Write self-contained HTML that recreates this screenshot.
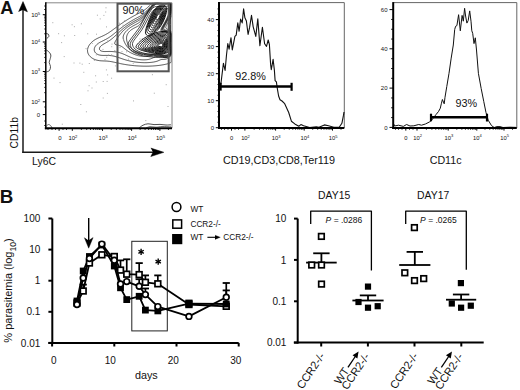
<!DOCTYPE html>
<html><head><meta charset="utf-8"><style>
html,body{margin:0;padding:0;background:#fff;}
svg{display:block;}
text{font-family:"Liberation Sans", sans-serif;fill:#111;}
</style></head><body>
<svg width="520" height="390" viewBox="0 0 520 390">
<rect width="520" height="390" fill="#fff"/>
<text x="0.20" y="13.80" font-size="18.2" text-anchor="start" font-weight="bold" font-style="normal" >A</text>
<line x1="23.00" y1="153.00" x2="23.00" y2="9.00" stroke="#1a1a1a" stroke-width="1.5" />
<path d="M18.60,11.80 L23.00,1.60 L27.40,11.80 L23.00,9.80" stroke="#000" stroke-width="0.5" fill="#000" stroke-linejoin="round" />
<line x1="22.30" y1="152.30" x2="155.00" y2="152.30" stroke="#1a1a1a" stroke-width="1.5" />
<path d="M150.80,148.10 L163.80,152.30 L150.80,156.50 L153.00,152.30" stroke="#000" stroke-width="0.5" fill="#000" stroke-linejoin="round" />
<text transform="translate(18.2,132.7) rotate(-90)" font-size="10.4" text-anchor="middle">CD11b</text>
<text x="32.10" y="164.60" font-size="10.4" text-anchor="start" font-weight="normal" font-style="normal" >Ly6C</text>
<path d="M171.20,49.36 L171.20,49.68 L171.20,50.00 L171.20,50.33 L171.20,50.67 L171.20,51.00 L171.20,51.33 L171.20,51.64 L171.20,51.92 L171.20,52.20 L171.20,52.49 L171.20,52.80 L171.20,53.12 L171.20,53.48 L171.20,53.89 L171.20,54.33 L171.20,54.67 L171.20,55.00 L171.20,55.67 L171.20,56.00 L171.20,56.67 L171.20,57.33 L171.20,58.00 L171.20,58.67 L171.20,59.33 L171.20,60.00 L171.20,60.33 L171.20,60.78 L171.20,61.16 L171.20,61.48 L171.20,61.74 L171.20,62.00 L171.10,62.33 L170.67,62.56 L170.33,62.73 L169.74,63.00 L169.33,63.16 L168.89,63.33 L168.33,63.53 L167.91,63.67 L167.33,63.84 L166.76,64.00 L166.33,64.11 L165.67,64.27 L165.33,64.35 L164.67,64.49 L164.00,64.62 L163.67,64.69 L163.00,64.81 L162.33,64.92 L161.88,65.00 L161.33,65.09 L160.67,65.19 L160.00,65.28 L159.62,65.33 L159.00,65.41 L158.33,65.50 L157.67,65.57 L157.00,65.64 L156.67,65.68 L156.00,65.74 L155.33,65.80 L154.67,65.85 L154.00,65.90 L153.33,65.95 L152.67,65.99 L152.33,66.01 L151.67,66.04 L151.00,66.07 L150.33,66.10 L149.67,66.12 L149.00,66.14 L148.33,66.16 L147.67,66.17 L147.00,66.18 L146.33,66.18 L145.67,66.18 L145.00,66.18 L144.33,66.17 L143.67,66.16 L143.00,66.15 L142.33,66.13 L141.67,66.11 L141.00,66.09 L140.33,66.06 L139.67,66.03 L139.03,66.00 L138.67,65.98 L138.00,65.94 L137.33,65.90 L136.67,65.86 L136.00,65.81 L135.33,65.75 L134.67,65.70 L134.33,65.67 L133.67,65.61 L133.00,65.54 L132.33,65.47 L131.67,65.40 L131.07,65.33 L130.67,65.29 L130.00,65.21 L129.33,65.12 L128.67,65.03 L128.33,64.99 L127.67,64.89 L127.00,64.79 L126.33,64.69 L126.00,64.64 L125.33,64.53 L124.67,64.42 L124.18,64.33 L123.67,64.24 L123.00,64.12 L122.37,64.00 L122.00,63.93 L121.33,63.80 L120.70,63.67 L120.33,63.59 L119.67,63.45 L119.13,63.33 L118.67,63.23 L118.00,63.08 L117.63,63.00 L117.00,62.86 L116.33,62.70 L116.00,62.63 L115.33,62.48 L114.70,62.33 L114.33,62.25 L113.67,62.10 L113.18,62.00 L112.67,61.89 L112.00,61.76 L111.49,61.67 L111.00,61.58 L110.33,61.47 L109.67,61.37 L109.33,61.33 L108.67,61.25 L108.00,61.18 L107.33,61.12 L106.67,61.07 L106.00,61.03 L105.33,61.00 L105.00,60.99 L104.33,60.96 L103.67,60.94 L103.00,60.92 L102.33,60.89 L101.67,60.85 L101.00,60.81 L100.33,60.75 L99.67,60.68 L99.33,60.64 L98.67,60.54 L98.00,60.42 L97.57,60.33 L97.00,60.20 L96.33,60.02 L96.00,59.92 L95.33,59.70 L95.00,59.57 L94.41,59.33 L94.00,59.15 L93.67,58.99 L93.05,58.67 L92.67,58.45 L92.33,58.24 L91.97,58.00 L91.50,57.67 L91.07,57.33 L90.68,57.00 L90.33,56.68 L90.00,56.35 L89.68,56.00 L89.40,55.67 L89.14,55.33 L88.91,55.00 L88.67,54.62 L88.33,54.01 L88.17,53.67 L88.00,53.23 L87.81,52.67 L87.67,52.06 L87.60,51.67 L87.53,51.00 L87.52,50.33 L87.56,49.67 L87.66,49.00 L87.73,48.67 L87.90,48.00 L88.01,47.67 L88.27,47.00 L88.41,46.67 L88.67,46.15 L88.93,45.67 L89.13,45.33 L89.34,45.00 L89.67,44.53 L90.00,44.08 L90.33,43.67 L90.62,43.33 L90.92,43.00 L91.24,42.67 L91.58,42.33 L91.93,42.00 L92.31,41.67 L92.67,41.36 L93.00,41.09 L93.33,40.84 L93.67,40.59 L94.03,40.33 L94.53,40.00 L95.00,39.70 L95.33,39.50 L95.67,39.30 L96.21,39.00 L96.67,38.76 L97.00,38.58 L97.50,38.33 L98.00,38.09 L98.33,37.94 L98.92,37.67 L99.33,37.48 L99.67,37.33 L100.33,37.04 L100.67,36.90 L101.19,36.67 L101.67,36.46 L102.00,36.31 L102.67,36.01 L103.00,35.85 L103.40,35.67 L104.00,35.38 L104.33,35.21 L104.75,35.00 L105.33,34.70 L105.67,34.52 L106.01,34.33 L106.60,34.00 L107.00,33.76 L107.33,33.57 L107.72,33.33 L108.25,33.00 L108.67,32.74 L109.00,32.52 L109.33,32.30 L109.78,32.00 L110.27,31.67 L110.67,31.39 L111.00,31.16 L111.33,30.92 L111.69,30.67 L112.15,30.33 L112.61,30.00 L113.00,29.72 L113.33,29.47 L113.67,29.23 L114.00,28.98 L114.42,28.67 L114.87,28.33 L115.33,28.00 L115.67,27.75 L116.00,27.50 L116.33,27.25 L116.68,27.00 L117.13,26.67 L117.59,26.33 L118.00,26.04 L118.33,25.79 L118.67,25.55 L119.00,25.31 L119.44,25.00 L119.91,24.67 L120.33,24.37 L120.67,24.13 L121.00,23.90 L121.34,23.67 L121.82,23.33 L122.31,23.00 L122.67,22.76 L123.00,22.53 L123.33,22.31 L123.80,22.00 L124.31,21.67 L124.67,21.43 L125.00,21.21 L125.33,21.00 L125.85,20.67 L126.33,20.36 L126.67,20.15 L127.00,19.94 L127.44,19.67 L127.98,19.33 L128.33,19.11 L128.67,18.91 L129.07,18.67 L129.63,18.33 L130.00,18.11 L130.33,17.92 L130.76,17.67 L131.33,17.33 L131.67,17.14 L132.00,16.95 L132.50,16.67 L133.00,16.38 L133.33,16.19 L133.68,16.00 L134.29,15.67 L134.67,15.46 L135.00,15.28 L135.51,15.00 L136.00,14.74 L136.33,14.56 L136.76,14.33 L137.33,14.03 L137.67,13.86 L138.04,13.67 L138.67,13.34 L139.00,13.16 L139.33,12.99 L139.96,12.67 L140.33,12.47 L140.67,12.29 L141.21,12.00 L141.67,11.75 L142.00,11.56 L142.39,11.33 L142.96,11.00 L143.33,10.77 L143.67,10.55 L144.01,10.33 L144.49,10.00 L144.96,9.67 L145.33,9.39 L145.67,9.13 L146.00,8.86 L146.33,8.59 L146.67,8.32 L147.03,8.00 L147.41,7.67 L147.78,7.33 L148.14,7.00 L148.50,6.67 L148.86,6.33 L149.20,6.00 L149.55,5.67 L149.90,5.33 L150.24,5.00 L150.58,4.67 L150.92,4.33 L151.26,4.00 L151.61,3.67 L151.95,3.33 L152.29,3.20 L152.64,3.20 L152.99,3.20 L153.33,3.20 L153.67,3.20 L154.00,3.20 L154.33,3.20 L154.67,3.20 L155.00,3.20 L155.33,3.20" stroke="#111" stroke-width="0.75" fill="none" stroke-linejoin="round" />
<path d="M171.20,3.20 L171.20,3.20 L171.20,3.20 L171.20,3.20 L171.20,3.20 L171.20,3.20 L171.20,3.33 L171.20,4.00 L171.20,4.67 L171.20,5.33 L171.20,6.00 L171.20,6.53 L171.20,7.00 L171.20,7.67 L171.20,8.13 L171.20,8.67 L171.20,9.31 L171.20,9.67 L171.20,10.31 L171.20,10.67 L171.20,11.21 L171.20,11.67 L171.20,12.05 L171.20,12.67 L171.20,13.00 L171.20,13.58 L171.20,14.00 L171.20,14.33 L171.20,15.00 L171.20,15.33 L171.20,15.68 L171.20,16.33 L171.18,16.67 L171.00,17.00 L170.67,17.63 L170.48,18.00 L170.30,18.33 L170.00,18.88 L169.75,19.33 L169.57,19.67 L169.33,20.09 L169.01,20.67 L168.83,21.00 L168.63,21.33 L168.33,21.86 L168.06,22.33 L167.87,22.67 L167.67,23.02 L167.33,23.61 L167.12,24.00 L166.94,24.33 L166.67,24.84 L166.42,25.33 L166.27,25.67 L166.00,26.33 L165.90,26.67 L165.79,27.33 L165.89,28.00 L166.09,28.33 L166.43,28.67 L166.94,29.00 L167.33,29.21 L167.67,29.38 L168.24,29.67 L168.67,29.88 L169.00,30.06 L169.47,30.33 L170.00,30.65 L170.33,30.86 L170.67,31.08 L171.04,31.33 L171.20,31.67 L171.20,31.99 L171.20,32.21 L171.20,32.44 L171.20,32.67 L171.20,33.00 L171.20,33.31 L171.20,33.51 L171.20,33.72 L171.20,34.00 L171.20,34.32 L171.20,34.51 L171.20,34.71 L171.20,35.00 L171.20,35.33 L171.20,35.55 L171.20,35.78 L171.20,36.02 L171.20,36.33 L171.20,36.67 L171.20,37.00" stroke="#111" stroke-width="0.75" fill="none" stroke-linejoin="round" />
<path d="M171.20,46.35 L171.20,46.86 L171.20,47.31 L171.20,47.67 L171.20,48.00 L171.20,48.33 L171.20,48.67 L171.20,49.00 L171.20,49.33 L171.20,49.62 L171.20,49.90 L171.20,50.17 L171.20,50.44 L171.20,50.71 L171.20,51.00 L171.20,51.33 L171.20,51.67 L171.20,52.00 L171.20,52.33 L171.20,52.67 L171.20,53.00 L171.20,53.33 L171.20,53.73 L171.20,54.14 L171.20,54.55 L171.20,54.96 L171.03,55.33 L170.76,55.67 L170.47,56.00 L170.18,56.33 L169.87,56.67 L169.54,57.00 L169.19,57.33 L168.80,57.67 L168.37,58.00 L168.00,58.25 L167.67,58.45 L167.25,58.67 L166.67,58.92 L166.33,59.04 L165.67,59.22 L165.01,59.33 L164.67,59.38 L164.00,59.43 L163.33,59.45 L162.67,59.46 L162.00,59.48 L161.33,59.56 L160.83,59.67 L160.33,59.82 L159.91,60.00 L159.33,60.26 L159.00,60.42 L158.46,60.67 L158.00,60.85 L157.63,61.00 L157.00,61.22 L156.65,61.33 L156.00,61.52 L155.42,61.67 L155.00,61.76 L154.33,61.90 L153.82,62.00 L153.33,62.08 L152.67,62.18 L152.00,62.27 L151.52,62.33 L151.00,62.39 L150.33,62.45 L149.67,62.51 L149.00,62.55 L148.33,62.59 L147.67,62.62 L147.00,62.65 L146.33,62.66 L146.00,62.67 L145.33,62.67 L144.67,62.67 L144.20,62.67 L143.67,62.66 L143.00,62.64 L142.33,62.62 L141.67,62.59 L141.00,62.55 L140.33,62.51 L139.67,62.46 L139.00,62.41 L138.33,62.35 L138.00,62.31 L137.33,62.24 L136.67,62.17 L136.00,62.08 L135.36,62.00 L135.00,61.95 L134.33,61.85 L133.67,61.74 L133.20,61.67 L132.67,61.57 L132.00,61.45 L131.40,61.33 L131.00,61.25 L130.33,61.11 L129.83,61.00 L129.33,60.88 L128.67,60.73 L128.33,60.64 L127.67,60.47 L127.14,60.33 L126.67,60.20 L126.00,60.01 L125.67,59.91 L125.00,59.71 L124.67,59.61 L124.00,59.40 L123.67,59.29 L123.00,59.07 L122.67,58.96 L122.00,58.73 L121.67,58.62 L121.00,58.38 L120.67,58.27 L120.00,58.03 L119.67,57.91 L119.00,57.68 L118.67,57.57 L118.00,57.34 L117.67,57.23 L117.00,57.01 L116.67,56.91 L116.00,56.70 L115.67,56.61 L115.00,56.42 L114.66,56.33 L114.00,56.17 L113.33,56.02 L113.00,55.95 L112.33,55.83 L111.67,55.72 L111.25,55.67 L110.67,55.60 L110.00,55.53 L109.33,55.48 L108.67,55.45 L108.00,55.42 L107.33,55.41 L106.67,55.41 L106.00,55.42 L105.33,55.42 L104.67,55.43 L104.00,55.43 L103.33,55.43 L102.67,55.41 L102.00,55.38 L101.42,55.33 L101.00,55.29 L100.33,55.19 L99.67,55.07 L99.33,54.99 L98.67,54.80 L98.30,54.67 L97.67,54.40 L97.33,54.24 L96.91,54.00 L96.42,53.67 L96.01,53.33 L95.67,53.01 L95.36,52.67 L95.11,52.33 L94.90,52.00 L94.67,51.54 L94.46,51.00 L94.33,50.47 L94.27,50.00 L94.26,49.33 L94.33,48.70 L94.41,48.33 L94.62,47.67 L94.76,47.33 L95.00,46.84 L95.30,46.33 L95.53,46.00 L95.78,45.67 L96.06,45.33 L96.36,45.00 L96.70,44.67 L97.06,44.33 L97.46,44.00 L97.89,43.67 L98.33,43.35 L98.67,43.12 L99.00,42.91 L99.40,42.67 L99.97,42.33 L100.33,42.13 L100.67,41.95 L101.22,41.67 L101.67,41.44 L102.00,41.27 L102.56,41.00 L103.00,40.78 L103.33,40.62 L103.91,40.33 L104.33,40.13 L104.67,39.96 L105.23,39.67 L105.67,39.44 L106.00,39.26 L106.47,39.00 L107.00,38.70 L107.33,38.51 L107.67,38.31 L108.17,38.00 L108.67,37.69 L109.00,37.47 L109.33,37.25 L109.71,37.00 L110.19,36.67 L110.66,36.33 L111.00,36.09 L111.33,35.84 L111.67,35.59 L112.01,35.33 L112.44,35.00 L112.87,34.67 L113.29,34.33 L113.67,34.03 L114.00,33.76 L114.33,33.49 L114.67,33.22 L115.00,32.94 L115.33,32.67 L115.74,32.33 L116.14,32.00 L116.54,31.67 L116.94,31.33 L117.33,31.00 L117.67,30.73 L118.00,30.45 L118.33,30.17 L118.67,29.90 L119.00,29.63 L119.36,29.33 L119.78,29.00 L120.19,28.67 L120.61,28.33 L121.00,28.03 L121.33,27.77 L121.67,27.51 L122.00,27.26 L122.34,27.00 L122.78,26.67 L123.23,26.33 L123.67,26.01 L124.00,25.77 L124.33,25.53 L124.67,25.30 L125.09,25.00 L125.57,24.67 L126.00,24.37 L126.33,24.14 L126.67,23.92 L127.04,23.67 L127.55,23.33 L128.00,23.04 L128.33,22.83 L128.67,22.61 L129.11,22.33 L129.65,22.00 L130.00,21.78 L130.33,21.58 L130.74,21.33 L131.30,21.00 L131.67,20.78 L132.00,20.59 L132.44,20.33 L133.00,20.01 L133.33,19.82 L133.67,19.63 L134.20,19.33 L134.67,19.08 L135.00,18.89 L135.42,18.67 L136.00,18.35 L136.33,18.17 L136.67,18.00 L137.28,17.67 L137.67,17.46 L138.00,17.28 L138.53,17.00 L139.00,16.74 L139.33,16.56 L139.73,16.33 L140.31,16.00 L140.67,15.79 L141.00,15.58 L141.39,15.33 L141.88,15.00 L142.33,14.69 L142.67,14.44 L143.00,14.19 L143.33,13.93 L143.67,13.66 L144.04,13.33 L144.42,13.00 L144.79,12.67 L145.15,12.33 L145.50,12.00 L145.84,11.67 L146.17,11.33 L146.50,11.00 L146.82,10.67 L147.14,10.33 L147.46,10.00 L147.78,9.67 L148.09,9.33 L148.40,9.00 L148.71,8.67 L149.02,8.33 L149.33,8.00 L149.67,7.64 L150.00,7.28 L150.33,6.92 L150.67,6.57 L151.00,6.21 L151.33,5.86 L151.67,5.51 L152.00,5.17 L152.33,4.83 L152.67,4.49 L153.00,4.15 L153.33,3.82 L153.67,3.50 L154.00,3.20 L154.33,3.20 L154.67,3.20 L155.00,3.20 L155.33,3.20 L155.67,3.20 L156.03,3.20 L156.42,3.20 L156.82,3.20 L157.23,3.20 L157.66,3.20" stroke="#111" stroke-width="0.75" fill="none" stroke-linejoin="round" />
<path d="M171.20,3.20 L171.20,3.20 L171.20,3.20 L171.20,3.20 L171.20,3.20 L171.20,3.20 L171.20,3.20 L171.20,3.67 L171.20,4.33 L171.20,5.00 L171.20,5.67 L171.20,6.33 L171.20,6.75 L171.20,7.33 L171.20,8.00 L171.20,8.67 L171.20,9.00 L171.20,9.67 L171.20,10.18 L171.20,10.67 L171.20,11.33 L171.20,11.67 L171.20,12.33 L171.20,12.67 L171.00,13.28 L170.86,13.67 L170.67,14.15 L170.46,14.67 L170.32,15.00 L170.04,15.67 L169.89,16.00 L169.67,16.50 L169.44,17.00 L169.28,17.33 L169.00,17.92 L168.80,18.33 L168.63,18.67 L168.33,19.26 L168.13,19.67 L167.95,20.00 L167.67,20.54 L167.42,21.00 L167.24,21.33 L167.00,21.77 L166.69,22.33 L166.50,22.67 L166.31,23.00 L166.00,23.55 L165.75,24.00 L165.56,24.33 L165.33,24.74 L165.01,25.33 L164.84,25.67 L164.66,26.00 L164.34,26.67 L164.20,27.00 L164.00,27.54 L163.88,28.00 L163.84,28.67 L164.00,29.15 L164.33,29.53 L164.67,29.74 L165.30,30.00 L165.67,30.11 L166.33,30.31 L166.67,30.41 L167.33,30.64 L167.67,30.76 L168.23,31.00 L168.67,31.20 L169.00,31.38 L169.52,31.67 L170.00,31.96 L170.33,32.17 L170.67,32.40 L171.05,32.67 L171.20,33.00 L171.20,33.33 L171.20,33.60 L171.20,33.84 L171.20,34.08 L171.20,34.33 L171.20,34.67 L171.20,35.00 L171.20,35.25 L171.20,35.48 L171.20,35.71 L171.20,36.00 L171.20,36.33 L171.20,36.67 L171.20,36.94 L171.20,37.21 L171.20,37.50 L171.20,37.81 L171.20,38.13 L171.20,38.49 L171.20,38.88 L171.20,39.32 L171.20,39.67" stroke="#111" stroke-width="0.75" fill="none" stroke-linejoin="round" />
<path d="M171.20,43.71 L171.20,44.33 L171.20,45.00 L171.20,45.33 L171.20,45.79 L171.20,46.33 L171.20,46.67 L171.20,47.00 L171.20,47.33 L171.20,47.67 L171.20,48.03 L171.20,48.36 L171.20,48.68 L171.20,49.00 L171.20,49.33 L171.20,49.67 L171.20,50.00 L171.20,50.33 L171.20,50.67 L171.20,51.00 L171.20,51.33 L171.20,51.67 L171.20,52.00 L171.20,52.33 L171.20,52.67 L171.20,53.00 L171.20,53.33 L171.20,53.67 L171.20,54.00 L171.00,54.35 L170.67,54.72 L170.33,55.08 L170.00,55.41 L169.67,55.72 L169.33,56.02 L168.94,56.33 L168.46,56.67 L168.00,56.95 L167.67,57.13 L167.18,57.33 L166.67,57.51 L166.00,57.65 L165.67,57.69 L165.00,57.71 L164.47,57.67 L164.00,57.60 L163.33,57.44 L163.00,57.33 L162.33,57.10 L162.00,56.97 L161.33,56.71 L161.00,56.60 L160.33,56.40 L160.00,56.32 L159.33,56.25 L158.67,56.24 L158.00,56.30 L157.67,56.34 L157.00,56.49 L156.33,56.65 L156.00,56.75 L155.33,56.96 L155.00,57.08 L154.33,57.32 L154.00,57.45 L153.46,57.67 L153.00,57.87 L152.67,58.01 L152.00,58.30 L151.67,58.44 L151.09,58.67 L150.67,58.82 L150.13,59.00 L149.67,59.14 L149.00,59.31 L148.67,59.38 L148.00,59.51 L147.33,59.61 L146.90,59.67 L146.33,59.73 L145.67,59.78 L145.00,59.81 L144.33,59.83 L143.67,59.84 L143.00,59.83 L142.33,59.81 L141.67,59.78 L141.00,59.73 L140.33,59.67 L140.00,59.64 L139.33,59.56 L138.67,59.47 L138.00,59.36 L137.67,59.31 L137.00,59.18 L136.33,59.05 L136.00,58.97 L135.33,58.81 L134.75,58.67 L134.33,58.55 L133.67,58.36 L133.33,58.25 L132.67,58.04 L132.33,57.92 L131.67,57.68 L131.33,57.55 L130.77,57.33 L130.33,57.16 L129.96,57.00 L129.33,56.73 L129.00,56.58 L128.45,56.33 L128.00,56.13 L127.67,55.97 L127.01,55.67 L126.67,55.51 L126.30,55.33 L125.67,55.04 L125.33,54.89 L124.85,54.67 L124.33,54.43 L124.00,54.29 L123.33,54.01 L123.00,53.87 L122.49,53.67 L122.00,53.48 L121.60,53.33 L121.00,53.13 L120.61,53.00 L120.00,52.81 L119.47,52.67 L119.00,52.54 L118.33,52.38 L118.00,52.31 L117.33,52.17 L116.67,52.05 L116.33,51.99 L115.67,51.89 L115.00,51.79 L114.33,51.72 L113.86,51.67 L113.33,51.62 L112.67,51.57 L112.00,51.52 L111.33,51.49 L110.67,51.47 L110.00,51.46 L109.33,51.46 L108.67,51.47 L108.00,51.48 L107.33,51.50 L106.67,51.51 L106.00,51.53 L105.33,51.54 L104.67,51.54 L104.00,51.52 L103.33,51.47 L102.67,51.39 L102.33,51.33 L101.67,51.15 L101.24,51.00 L100.67,50.71 L100.33,50.47 L100.00,50.16 L99.67,49.68 L99.53,49.33 L99.44,48.67 L99.55,48.00 L99.67,47.67 L100.00,47.06 L100.29,46.67 L100.58,46.33 L100.92,46.00 L101.30,45.67 L101.67,45.37 L102.00,45.13 L102.33,44.90 L102.69,44.67 L103.22,44.33 L103.67,44.07 L104.00,43.88 L104.37,43.67 L104.96,43.33 L105.33,43.13 L105.67,42.94 L106.14,42.67 L106.67,42.36 L107.00,42.17 L107.33,41.97 L107.83,41.67 L108.33,41.35 L108.67,41.14 L109.00,40.92 L109.37,40.67 L109.85,40.33 L110.32,40.00 L110.67,39.75 L111.00,39.50 L111.33,39.25 L111.67,38.99 L112.07,38.67 L112.48,38.33 L112.88,38.00 L113.27,37.67 L113.66,37.33 L114.00,37.03 L114.33,36.73 L114.67,36.43 L115.00,36.13 L115.33,35.82 L115.67,35.50 L116.00,35.19 L116.33,34.87 L116.67,34.55 L117.00,34.23 L117.33,33.91 L117.67,33.59 L118.00,33.27 L118.33,32.95 L118.67,32.63 L119.00,32.32 L119.34,32.00 L119.69,31.67 L120.05,31.33 L120.42,31.00 L120.79,30.67 L121.16,30.33 L121.54,30.00 L121.93,29.67 L122.32,29.33 L122.67,29.04 L123.00,28.76 L123.33,28.49 L123.67,28.22 L124.00,27.96 L124.37,27.67 L124.80,27.33 L125.24,27.00 L125.67,26.68 L126.00,26.44 L126.33,26.19 L126.67,25.96 L127.08,25.67 L127.56,25.33 L128.00,25.03 L128.33,24.81 L128.67,24.59 L129.06,24.33 L129.57,24.00 L130.00,23.73 L130.33,23.52 L130.67,23.32 L131.19,23.00 L131.67,22.71 L132.00,22.52 L132.33,22.32 L132.89,22.00 L133.33,21.75 L133.67,21.56 L134.07,21.33 L134.67,21.01 L135.00,20.82 L135.33,20.64 L135.91,20.33 L136.33,20.10 L136.67,19.93 L137.15,19.67 L137.67,19.39 L138.00,19.20 L138.36,19.00 L138.95,18.67 L139.33,18.44 L139.67,18.23 L140.04,18.00 L140.54,17.67 L141.00,17.35 L141.33,17.10 L141.67,16.84 L142.00,16.58 L142.33,16.30 L142.69,16.00 L143.06,15.67 L143.42,15.33 L143.76,15.00 L144.10,14.67 L144.43,14.33 L144.76,14.00 L145.07,13.67 L145.39,13.33 L145.70,13.00 L146.00,12.67 L146.33,12.30 L146.67,11.93 L147.00,11.55 L147.33,11.17 L147.67,10.80 L148.00,10.42 L148.33,10.04 L148.66,9.67 L148.95,9.33 L149.24,9.00 L149.54,8.67 L149.84,8.33 L150.13,8.00 L150.43,7.67 L150.74,7.33 L151.04,7.00 L151.35,6.67 L151.67,6.33 L152.00,5.97 L152.33,5.62 L152.67,5.28 L153.00,4.93 L153.33,4.60 L153.67,4.27 L154.00,3.94 L154.33,3.62 L154.67,3.30 L155.00,3.20 L155.36,3.20 L155.73,3.20 L156.12,3.20 L156.51,3.20 L156.91,3.20 L157.33,3.20 L157.67,3.20 L158.00,3.20 L158.33,3.20 L158.67,3.20" stroke="#111" stroke-width="0.75" fill="none" stroke-linejoin="round" />
<path d="M170.78,3.20 L171.00,3.20 L171.20,3.20 L171.20,3.20 L171.20,3.20 L171.20,3.20 L171.20,3.20 L171.20,3.67 L171.20,4.33 L171.20,5.00 L171.20,5.67 L171.20,6.33 L171.20,7.00 L171.20,7.67 L171.20,8.19 L171.20,8.67 L171.20,9.33 L171.20,9.88 L171.20,10.33 L171.05,11.00 L170.95,11.33 L170.76,12.00 L170.65,12.33 L170.43,13.00 L170.31,13.33 L170.07,14.00 L169.94,14.33 L169.68,15.00 L169.55,15.33 L169.33,15.84 L169.13,16.33 L168.98,16.67 L168.68,17.33 L168.53,17.67 L168.33,18.07 L168.05,18.67 L167.89,19.00 L167.67,19.43 L167.38,20.00 L167.21,20.33 L167.00,20.72 L166.67,21.33 L166.49,21.67 L166.31,22.00 L166.00,22.55 L165.75,23.00 L165.56,23.33 L165.33,23.73 L165.00,24.32 L164.81,24.67 L164.62,25.00 L164.33,25.50 L164.06,26.00 L163.89,26.33 L163.67,26.77 L163.40,27.33 L163.27,27.67 L163.05,28.33 L162.98,28.67 L163.00,29.33 L163.14,29.67 L163.43,30.00 L164.00,30.31 L164.33,30.42 L165.00,30.58 L165.36,30.67 L166.00,30.80 L166.67,30.97 L167.00,31.07 L167.67,31.30 L168.00,31.43 L168.51,31.67 L169.00,31.91 L169.33,32.10 L169.72,32.33 L170.24,32.67 L170.67,32.96 L171.00,33.19 L171.20,33.44 L171.20,33.69 L171.20,34.00 L171.20,34.33 L171.20,34.67 L171.20,34.95 L171.20,35.20 L171.20,35.45 L171.20,35.69 L171.20,36.00 L171.20,36.33 L171.20,36.67 L171.20,36.97 L171.20,37.24 L171.20,37.53 L171.20,37.83 L171.20,38.15 L171.20,38.50 L171.20,38.88 L171.20,39.30 L171.20,39.67 L171.20,40.00 L171.20,40.34 L171.20,41.00 L171.20,41.33 L171.20,42.00 L171.20,42.42" stroke="#111" stroke-width="0.75" fill="none" stroke-linejoin="round" />
<path d="M169.88,3.20 L170.09,3.20 L170.33,3.20 L170.59,3.20 L170.71,3.20 L170.92,3.20 L171.00,3.20 L171.14,3.33 L171.20,4.00 L171.20,4.67 L171.20,5.33 L171.20,6.00 L171.20,6.67 L171.20,7.33 L171.14,8.00 L171.04,8.67 L170.98,9.00 L170.86,9.67 L170.70,10.33 L170.62,10.67 L170.45,11.33 L170.33,11.73 L170.16,12.33 L170.00,12.82 L169.83,13.33 L169.67,13.80 L169.48,14.33 L169.33,14.70 L169.09,15.33 L168.96,15.67 L168.68,16.33 L168.54,16.67 L168.33,17.12 L168.09,17.67 L167.94,18.00 L167.67,18.56 L167.46,19.00 L167.29,19.33 L167.00,19.91 L166.79,20.33 L166.61,20.67 L166.33,21.19 L166.08,21.67 L165.90,22.00 L165.67,22.41 L165.33,23.00 L165.15,23.33 L164.96,23.67 L164.67,24.17 L164.38,24.67 L164.19,25.00 L164.00,25.33 L163.67,25.92 L163.44,26.33 L163.26,26.67 L163.00,27.18 L162.77,27.67 L162.63,28.00 L162.41,28.67 L162.33,29.07 L162.33,29.60 L162.46,30.00 L162.72,30.33 L163.28,30.67 L163.67,30.79 L164.33,30.93 L164.71,31.00 L165.33,31.09 L166.00,31.21 L166.50,31.33 L167.00,31.46 L167.60,31.67 L168.00,31.82 L168.39,32.00 L169.00,32.31 L169.33,32.49 L169.67,32.70 L170.13,33.00 L170.61,33.33 L171.00,33.61 L171.20,33.86 L171.20,34.12 L171.20,34.38 L171.20,34.67 L171.20,35.00 L171.20,35.33 L171.20,35.67 L171.20,35.95 L171.20,36.22 L171.20,36.48 L171.20,36.75 L171.20,37.02 L171.20,37.33 L171.20,37.67 L171.20,38.00 L171.20,38.33 L171.20,38.67 L171.20,39.00 L171.20,39.38 L171.20,39.86 L171.20,40.33 L171.20,40.67 L171.20,41.18 L171.20,41.67 L171.20,42.33 L171.20,42.74 L171.20,43.33 L171.20,43.67 L171.20,44.33 L171.20,44.93 L171.20,45.33 L171.20,45.69 L171.20,46.27 L171.20,46.67 L171.20,47.00 L171.20,47.33 L171.20,47.67 L171.20,48.00 L171.20,48.33 L171.20,48.67 L171.20,49.00 L171.20,49.33 L171.20,49.67 L171.20,50.00 L171.20,50.33 L171.20,50.67 L171.20,51.00 L171.20,51.33 L171.20,51.67 L171.20,52.00 L171.20,52.33 L171.20,52.67 L171.20,53.00 L171.20,53.36 L171.00,53.73 L170.67,54.09 L170.33,54.43 L170.00,54.75 L169.67,55.06 L169.33,55.34 L168.91,55.67 L168.41,56.00 L168.00,56.24 L167.67,56.41 L167.00,56.66 L166.67,56.76 L166.00,56.88 L165.33,56.92 L164.67,56.87 L164.00,56.74 L163.67,56.65 L163.00,56.43 L162.67,56.30 L162.00,56.03 L161.67,55.90 L161.08,55.67 L160.67,55.54 L160.00,55.36 L159.67,55.30 L159.00,55.24 L158.33,55.23 L157.67,55.26 L157.00,55.31 L156.67,55.35 L156.00,55.44 L155.33,55.53 L154.67,55.62 L154.26,55.67 L153.67,55.75 L153.00,55.84 L152.33,55.92 L151.67,55.99 L151.33,56.03 L150.67,56.10 L150.00,56.17 L149.33,56.23 L148.67,56.28 L148.00,56.32 L147.67,56.34 L147.00,56.37 L146.33,56.40 L145.67,56.41 L145.00,56.41 L144.33,56.40 L143.67,56.37 L143.02,56.33 L142.67,56.31 L142.00,56.25 L141.33,56.18 L140.67,56.09 L140.15,56.00 L139.67,55.92 L139.00,55.79 L138.48,55.67 L138.00,55.56 L137.33,55.38 L137.00,55.29 L136.33,55.09 L136.00,54.98 L135.33,54.76 L135.00,54.64 L134.33,54.39 L134.00,54.26 L133.38,54.00 L133.00,53.84 L132.61,53.67 L132.00,53.38 L131.67,53.23 L131.21,53.00 L130.67,52.72 L130.33,52.54 L129.95,52.33 L129.37,52.00 L129.00,51.79 L128.67,51.58 L128.27,51.33 L127.75,51.00 L127.33,50.72 L127.00,50.49 L126.67,50.26 L126.31,50.00 L125.86,49.67 L125.43,49.33 L125.00,49.00 L124.67,48.74 L124.33,48.47 L124.00,48.21 L123.67,47.94 L123.31,47.67 L122.86,47.33 L122.40,47.00 L122.00,46.73 L121.67,46.52 L121.33,46.33 L120.68,46.00 L120.33,45.85 L119.85,45.67 L119.33,45.50 L118.68,45.33 L118.33,45.25 L117.67,45.12 L117.04,45.00 L116.67,44.92 L116.00,44.74 L115.67,44.61 L115.18,44.33 L114.87,44.00 L114.70,43.33 L114.81,42.67 L115.00,42.17 L115.23,41.67 L115.40,41.33 L115.67,40.85 L115.96,40.33 L116.16,40.00 L116.36,39.67 L116.67,39.17 L116.98,38.67 L117.19,38.33 L117.41,38.00 L117.67,37.61 L118.00,37.12 L118.30,36.67 L118.54,36.33 L118.77,36.00 L119.02,35.67 L119.33,35.24 L119.67,34.80 L120.00,34.38 L120.30,34.00 L120.58,33.67 L120.86,33.33 L121.14,33.00 L121.44,32.67 L121.74,32.33 L122.05,32.00 L122.37,31.67 L122.69,31.33 L123.02,31.00 L123.37,30.67 L123.72,30.33 L124.08,30.00 L124.44,29.67 L124.82,29.33 L125.21,29.00 L125.61,28.67 L126.00,28.35 L126.33,28.08 L126.67,27.82 L127.00,27.56 L127.33,27.31 L127.76,27.00 L128.22,26.67 L128.67,26.35 L129.00,26.12 L129.33,25.90 L129.68,25.67 L130.19,25.33 L130.67,25.03 L131.00,24.83 L131.33,24.62 L131.81,24.33 L132.33,24.03 L132.67,23.83 L133.00,23.64 L133.55,23.33 L134.00,23.08 L134.33,22.90 L134.77,22.67 L135.33,22.37 L135.67,22.19 L136.02,22.00 L136.65,21.67 L137.00,21.48 L137.33,21.30 L137.86,21.00 L138.33,20.72 L138.67,20.52 L139.00,20.31 L139.47,20.00 L139.95,19.67 L140.33,19.38 L140.67,19.12 L141.00,18.84 L141.33,18.56 L141.67,18.26 L142.00,17.95 L142.33,17.62 L142.67,17.29 L143.00,16.95 L143.33,16.59 L143.67,16.23 L144.00,15.86 L144.33,15.49 L144.67,15.11 L145.00,14.72 L145.33,14.34 L145.62,14.00 L145.90,13.67 L146.17,13.33 L146.45,13.00 L146.73,12.67 L147.02,12.33 L147.33,11.95 L147.67,11.55 L148.00,11.15 L148.33,10.76 L148.67,10.36 L148.97,10.00 L149.25,9.67 L149.54,9.33 L149.83,9.00 L150.12,8.67 L150.41,8.33 L150.70,8.00 L151.00,7.67 L151.33,7.30 L151.67,6.93 L152.00,6.57 L152.33,6.21 L152.67,5.86 L153.00,5.51 L153.33,5.17 L153.67,4.84 L154.00,4.51 L154.33,4.18 L154.67,3.86 L155.00,3.55 L155.33,3.25 L155.67,3.20 L156.00,3.20 L156.37,3.20 L156.77,3.20 L157.18,3.20 L157.61,3.20 L158.00,3.20 L158.33,3.20 L158.67,3.20 L159.00,3.20 L159.51,3.20" stroke="#111" stroke-width="0.75" fill="none" stroke-linejoin="round" />
<path d="M168.73,3.20 L169.03,3.20 L169.33,3.20 L169.67,3.20 L169.84,3.20 L170.00,3.20 L170.21,3.20 L170.33,3.20 L170.45,3.67 L170.55,4.33 L170.61,5.00 L170.64,5.67 L170.64,6.33 L170.62,7.00 L170.57,7.67 L170.49,8.33 L170.39,9.00 L170.33,9.33 L170.21,10.00 L170.06,10.67 L169.98,11.00 L169.81,11.67 L169.67,12.16 L169.52,12.67 L169.33,13.24 L169.20,13.67 L169.00,14.22 L168.84,14.67 L168.67,15.12 L168.46,15.67 L168.32,16.00 L168.05,16.67 L167.90,17.00 L167.67,17.53 L167.46,18.00 L167.30,18.33 L167.00,18.97 L166.83,19.33 L166.66,19.67 L166.33,20.30 L166.15,20.67 L165.97,21.00 L165.67,21.57 L165.43,22.00 L165.25,22.33 L165.00,22.77 L164.68,23.33 L164.49,23.67 L164.30,24.00 L164.00,24.51 L163.72,25.00 L163.52,25.33 L163.32,25.67 L163.00,26.23 L162.76,26.67 L162.58,27.00 L162.33,27.46 L162.07,28.00 L161.93,28.33 L161.69,29.00 L161.62,29.33 L161.59,30.00 L161.68,30.33 L162.00,30.77 L162.33,31.01 L163.00,31.25 L163.39,31.33 L164.00,31.41 L164.67,31.48 L165.33,31.56 L166.00,31.67 L166.33,31.73 L167.00,31.90 L167.33,32.01 L168.00,32.26 L168.33,32.40 L168.85,32.67 L169.33,32.94 L169.67,33.14 L170.00,33.37 L170.43,33.67 L170.88,34.00 L171.20,34.33 L171.20,34.62 L171.20,34.88 L171.20,35.16 L171.20,35.43 L171.20,35.71 L171.20,36.00 L171.20,36.33 L171.20,36.67 L171.20,37.00 L171.20,37.33 L171.20,37.67 L171.20,38.00 L171.20,38.33 L171.20,38.67 L171.20,39.00 L171.20,39.33 L171.20,39.67 L171.20,40.07 L171.20,40.67 L171.20,41.00 L171.20,41.54 L171.20,42.00 L171.20,42.67 L171.20,43.33 L171.20,44.00 L171.20,44.56 L171.20,45.00 L171.20,45.41 L171.20,46.00 L171.20,46.33 L171.20,46.67 L171.20,47.00 L171.20,47.40 L171.20,47.77 L171.20,48.13 L171.20,48.47 L171.20,48.81 L171.20,49.14 L171.20,49.47 L171.20,49.81 L171.20,50.15 L171.20,50.50 L171.20,50.86 L171.20,51.23 L171.20,51.60 L171.20,51.97 L171.20,52.33 L171.20,52.67 L171.08,53.00 L170.77,53.33 L170.45,53.67 L170.11,54.00 L169.74,54.33 L169.35,54.67 L169.00,54.94 L168.67,55.17 L168.33,55.38 L167.78,55.67 L167.33,55.86 L166.89,56.00 L166.33,56.13 L165.67,56.19 L165.00,56.17 L164.33,56.06 L164.00,55.98 L163.33,55.78 L163.00,55.65 L162.33,55.39 L162.00,55.25 L161.37,55.00 L161.00,54.87 L160.33,54.67 L160.00,54.60 L159.33,54.50 L158.67,54.45 L158.00,54.45 L157.33,54.47 L156.67,54.52 L156.00,54.57 L155.33,54.62 L154.72,54.67 L154.33,54.70 L153.67,54.75 L153.00,54.79 L152.33,54.82 L151.67,54.85 L151.00,54.87 L150.33,54.88 L149.67,54.89 L149.00,54.89 L148.33,54.88 L147.67,54.86 L147.00,54.84 L146.33,54.80 L145.67,54.76 L145.00,54.70 L144.67,54.67 L144.00,54.60 L143.33,54.52 L142.67,54.43 L142.07,54.33 L141.67,54.27 L141.00,54.15 L140.33,54.01 L140.00,53.94 L139.33,53.78 L138.91,53.67 L138.33,53.51 L137.74,53.33 L137.33,53.21 L136.72,53.00 L136.33,52.87 L135.81,52.67 L135.33,52.48 L134.99,52.33 L134.33,52.05 L134.00,51.89 L133.54,51.67 L133.00,51.39 L132.67,51.21 L132.31,51.00 L131.75,50.67 L131.33,50.40 L131.00,50.18 L130.67,49.95 L130.28,49.67 L129.85,49.33 L129.44,49.00 L129.06,48.67 L128.70,48.33 L128.36,48.00 L128.04,47.67 L127.74,47.33 L127.45,47.00 L127.18,46.67 L126.92,46.33 L126.67,45.98 L126.33,45.50 L126.01,45.00 L125.80,44.67 L125.61,44.33 L125.33,43.84 L125.06,43.33 L124.89,43.00 L124.67,42.54 L124.41,42.00 L124.26,41.67 L124.00,41.06 L123.84,40.67 L123.67,40.20 L123.49,39.67 L123.33,39.08 L123.24,38.67 L123.16,38.00 L123.14,37.33 L123.19,36.67 L123.32,36.00 L123.41,35.67 L123.64,35.00 L123.78,34.67 L124.00,34.21 L124.29,33.67 L124.50,33.33 L124.72,33.00 L125.00,32.60 L125.33,32.16 L125.67,31.75 L126.00,31.37 L126.33,31.00 L126.66,30.67 L126.99,30.33 L127.33,30.01 L127.67,29.71 L128.00,29.42 L128.33,29.14 L128.67,28.87 L129.00,28.60 L129.35,28.33 L129.81,28.00 L130.28,27.67 L130.67,27.41 L131.00,27.19 L131.33,26.97 L131.83,26.67 L132.33,26.36 L132.67,26.17 L133.00,25.98 L133.58,25.67 L134.00,25.44 L134.33,25.27 L134.85,25.00 L135.33,24.76 L135.67,24.59 L136.18,24.33 L136.67,24.08 L137.00,23.90 L137.43,23.67 L137.99,23.33 L138.33,23.11 L138.67,22.89 L139.00,22.64 L139.39,22.33 L139.78,22.00 L140.15,21.67 L140.49,21.33 L140.81,21.00 L141.12,20.67 L141.42,20.33 L141.72,20.00 L142.00,19.67 L142.33,19.27 L142.67,18.86 L143.00,18.44 L143.33,18.02 L143.60,17.67 L143.86,17.33 L144.12,17.00 L144.38,16.67 L144.67,16.30 L145.00,15.86 L145.33,15.43 L145.66,15.00 L145.91,14.67 L146.17,14.33 L146.43,14.00 L146.69,13.67 L147.00,13.27 L147.33,12.84 L147.67,12.41 L148.00,12.00 L148.26,11.67 L148.52,11.33 L148.79,11.00 L149.06,10.67 L149.34,10.33 L149.67,9.94 L150.00,9.54 L150.33,9.14 L150.67,8.75 L151.00,8.37 L151.32,8.00 L151.62,7.67 L151.92,7.33 L152.22,7.00 L152.53,6.67 L152.84,6.33 L153.16,6.00 L153.48,5.67 L153.81,5.33 L154.15,5.00 L154.49,4.67 L154.84,4.33 L155.20,4.00 L155.56,3.67 L155.94,3.33 L156.33,3.20 L156.67,3.20 L157.00,3.20 L157.33,3.20 L157.67,3.20 L158.00,3.20 L158.46,3.20 L158.95,3.20 L159.33,3.20 L159.67,3.20 L160.01,3.20 L160.60,3.20" stroke="#111" stroke-width="0.75" fill="none" stroke-linejoin="round" />
<path d="M167.26,3.20 L167.67,3.20 L168.00,3.20 L168.33,3.20 L168.67,3.20 L168.90,3.20 L169.09,3.20 L169.33,3.20 L169.51,3.20 L169.67,3.54 L169.78,4.00 L169.89,4.67 L169.96,5.33 L170.00,6.00 L170.01,6.33 L170.00,6.88 L169.98,7.33 L169.94,8.00 L169.86,8.67 L169.77,9.33 L169.67,9.90 L169.59,10.33 L169.44,11.00 L169.33,11.43 L169.19,12.00 L169.00,12.67 L168.90,13.00 L168.69,13.67 L168.58,14.00 L168.35,14.67 L168.23,15.00 L168.00,15.59 L167.85,16.00 L167.67,16.43 L167.43,17.00 L167.29,17.33 L167.00,17.98 L166.84,18.33 L166.67,18.70 L166.36,19.33 L166.20,19.67 L166.00,20.06 L165.69,20.67 L165.52,21.00 L165.33,21.34 L165.00,21.96 L164.80,22.33 L164.61,22.67 L164.33,23.15 L164.03,23.67 L163.84,24.00 L163.64,24.33 L163.33,24.85 L163.05,25.33 L162.85,25.67 L162.65,26.00 L162.33,26.54 L162.07,27.00 L161.89,27.33 L161.67,27.74 L161.37,28.33 L161.22,28.67 L161.00,29.28 L160.90,29.67 L160.87,30.33 L161.00,30.80 L161.33,31.23 L161.67,31.46 L162.18,31.67 L162.67,31.77 L163.33,31.85 L164.00,31.90 L164.67,31.94 L165.31,32.00 L165.67,32.04 L166.33,32.15 L167.00,32.32 L167.33,32.42 L167.96,32.67 L168.33,32.83 L168.67,33.00 L169.26,33.33 L169.67,33.59 L170.00,33.81 L170.33,34.05 L170.70,34.33 L171.13,34.67 L171.20,35.00 L171.20,35.33 L171.20,35.67 L171.20,35.97 L171.20,36.27 L171.20,36.56 L171.20,36.87 L171.20,37.17 L171.20,37.48 L171.20,37.81 L171.20,38.14 L171.20,38.49 L171.20,38.87 L171.20,39.28 L171.20,39.67 L171.20,40.00 L171.20,40.33 L171.20,40.91 L171.20,41.33 L171.20,41.91 L171.20,42.33 L171.20,43.00 L171.20,43.67 L171.20,44.18 L171.20,44.67 L171.20,45.18 L171.20,45.67 L171.20,46.00 L171.20,46.38 L171.20,46.85 L171.20,47.27 L171.20,47.67 L171.20,48.00 L171.20,48.33 L171.20,48.67 L171.20,49.00 L171.20,49.33 L171.20,49.67 L171.20,50.00 L171.20,50.33 L171.20,50.67 L171.20,51.00 L171.20,51.37 L171.20,51.75 L171.20,52.13 L171.00,52.49 L170.67,52.85 L170.33,53.19 L170.00,53.51 L169.67,53.81 L169.33,54.09 L169.00,54.35 L168.53,54.67 L168.00,54.97 L167.67,55.13 L167.12,55.33 L166.67,55.46 L166.00,55.56 L165.33,55.58 L164.67,55.50 L164.00,55.35 L163.67,55.26 L163.00,55.02 L162.67,54.89 L162.13,54.67 L161.67,54.49 L161.26,54.33 L160.67,54.15 L160.10,54.00 L159.67,53.93 L159.00,53.85 L158.33,53.83 L157.67,53.83 L157.00,53.86 L156.33,53.90 L155.67,53.93 L155.00,53.97 L154.33,54.00 L154.00,54.01 L153.33,54.04 L152.67,54.06 L152.00,54.07 L151.33,54.07 L150.67,54.07 L150.00,54.05 L149.33,54.03 L148.67,54.00 L148.33,53.98 L147.67,53.95 L147.00,53.90 L146.33,53.84 L145.67,53.77 L145.00,53.69 L144.67,53.65 L144.00,53.56 L143.33,53.45 L142.69,53.33 L142.33,53.27 L141.67,53.14 L141.07,53.00 L140.67,52.91 L140.00,52.74 L139.67,52.64 L139.00,52.45 L138.63,52.33 L138.00,52.13 L137.65,52.00 L137.00,51.76 L136.67,51.62 L136.00,51.34 L135.67,51.19 L135.27,51.00 L134.67,50.70 L134.33,50.52 L134.00,50.33 L133.44,50.00 L133.00,49.72 L132.67,49.50 L132.33,49.26 L131.99,49.00 L131.56,48.67 L131.17,48.33 L130.80,48.00 L130.46,47.67 L130.14,47.33 L129.84,47.00 L129.56,46.67 L129.29,46.33 L129.00,45.93 L128.67,45.43 L128.40,45.00 L128.21,44.67 L128.00,44.25 L127.73,43.67 L127.58,43.33 L127.33,42.67 L127.22,42.33 L127.02,41.67 L126.94,41.33 L126.79,40.67 L126.68,40.00 L126.63,39.67 L126.57,39.00 L126.54,38.33 L126.56,37.67 L126.62,37.00 L126.67,36.66 L126.80,36.00 L126.99,35.33 L127.11,35.00 L127.33,34.46 L127.56,34.00 L127.74,33.67 L128.00,33.24 L128.33,32.75 L128.65,32.33 L128.93,32.00 L129.23,31.67 L129.55,31.33 L129.89,31.00 L130.25,30.67 L130.64,30.33 L131.00,30.05 L131.33,29.79 L131.67,29.55 L132.00,29.32 L132.50,29.00 L133.00,28.69 L133.33,28.50 L133.67,28.31 L134.26,28.00 L134.67,27.79 L135.00,27.63 L135.61,27.33 L136.00,27.15 L136.33,26.99 L136.97,26.67 L137.33,26.47 L137.67,26.28 L138.11,26.00 L138.59,25.67 L139.00,25.34 L139.33,25.04 L139.67,24.71 L140.00,24.35 L140.29,24.00 L140.56,23.67 L140.81,23.33 L141.05,23.00 L141.33,22.60 L141.67,22.10 L141.95,21.67 L142.17,21.33 L142.39,21.00 L142.67,20.57 L143.00,20.05 L143.25,19.67 L143.46,19.33 L143.68,19.00 L144.00,18.52 L144.33,18.02 L144.57,17.67 L144.79,17.33 L145.02,17.00 L145.33,16.54 L145.67,16.06 L145.94,15.67 L146.17,15.33 L146.41,15.00 L146.67,14.65 L147.00,14.18 L147.33,13.73 L147.62,13.33 L147.87,13.00 L148.12,12.67 L148.38,12.33 L148.67,11.96 L149.00,11.52 L149.33,11.10 L149.67,10.68 L149.95,10.33 L150.22,10.00 L150.49,9.67 L150.77,9.33 L151.05,9.00 L151.34,8.67 L151.67,8.29 L152.00,7.91 L152.33,7.54 L152.67,7.17 L153.00,6.82 L153.33,6.46 L153.67,6.12 L154.00,5.78 L154.33,5.45 L154.67,5.12 L155.00,4.81 L155.33,4.50 L155.67,4.19 L156.00,3.90 L156.33,3.61 L156.67,3.33 L157.07,3.20 L157.50,3.20 L157.94,3.20 L158.33,3.20 L158.67,3.20 L159.00,3.20 L159.40,3.20 L159.96,3.20 L160.33,3.20 L160.67,3.20 L161.24,3.20 L161.67,3.20 L162.03,3.20" stroke="#111" stroke-width="0.75" fill="none" stroke-linejoin="round" />
<path d="M128.00,44.00 C128.33,41.58 131.17,38.67 133.00,36.00 C134.83,33.33 137.17,30.83 139.00,28.00 C140.83,25.17 142.33,22.00 144.00,19.00 C145.67,16.00 147.33,12.42 149.00,10.00 C150.67,7.58 151.33,5.50 154.00,4.50 C156.67,3.50 162.33,3.92 165.00,4.00 C167.67,4.08 169.08,2.33 170.00,5.00 C170.92,7.67 170.42,14.17 170.50,20.00 C170.58,25.83 170.50,34.17 170.50,40.00 C170.50,45.83 171.42,52.08 170.50,55.00 C169.58,57.92 168.08,57.17 165.00,57.50 C161.92,57.83 156.17,57.42 152.00,57.00 C147.83,56.58 143.50,56.08 140.00,55.00 C136.50,53.92 133.00,52.33 131.00,50.50 C129.00,48.67 127.67,46.42 128.00,44.00Z" stroke="#111" stroke-width="0.75" fill="none"/>
<path d="M130.24,43.72 C130.55,41.47 133.19,38.76 134.89,36.28 C136.59,33.80 138.76,31.48 140.47,28.84 C142.18,26.20 143.57,23.26 145.12,20.47 C146.67,17.68 148.22,14.35 149.77,12.10 C151.32,9.85 151.94,7.92 154.42,6.98 C156.90,6.05 162.17,6.44 164.65,6.52 C167.13,6.60 168.45,4.97 169.30,7.45 C170.15,9.93 169.69,15.97 169.76,21.40 C169.84,26.82 169.76,34.58 169.76,40.00 C169.76,45.42 170.62,51.24 169.76,53.95 C168.91,56.66 167.52,55.97 164.65,56.28 C161.78,56.59 156.44,56.20 152.56,55.81 C148.69,55.42 144.66,54.96 141.40,53.95 C138.15,52.94 134.89,51.47 133.03,49.77 C131.17,48.06 129.93,45.97 130.24,43.72Z" stroke="#111" stroke-width="0.75" fill="none"/>
<path d="M132.48,43.44 C132.77,41.36 135.20,38.85 136.78,36.56 C138.36,34.27 140.36,32.12 141.94,29.68 C143.52,27.24 144.81,24.52 146.24,21.94 C147.67,19.36 149.11,16.28 150.54,14.20 C151.97,12.12 152.55,10.33 154.84,9.47 C157.13,8.61 162.01,8.97 164.30,9.04 C166.59,9.11 167.81,7.61 168.60,9.90 C169.39,12.19 168.96,17.78 169.03,22.80 C169.10,27.82 169.03,34.98 169.03,40.00 C169.03,45.02 169.82,50.39 169.03,52.90 C168.24,55.41 166.95,54.76 164.30,55.05 C161.65,55.34 156.70,54.98 153.12,54.62 C149.54,54.26 145.81,53.83 142.80,52.90 C139.79,51.97 136.78,50.61 135.06,49.03 C133.34,47.45 132.19,45.52 132.48,43.44Z" stroke="#111" stroke-width="0.75" fill="none"/>
<path d="M136.00,46.50 C136.25,45.25 138.17,43.17 140.00,41.50 C141.83,39.83 144.50,37.92 147.00,36.50 C149.50,35.08 152.50,33.83 155.00,33.00 C157.50,32.17 160.00,31.58 162.00,31.50 C164.00,31.42 165.75,31.58 167.00,32.50 C168.25,33.42 169.08,34.75 169.50,37.00 C169.92,39.25 169.75,43.50 169.50,46.00 C169.25,48.50 169.25,50.70 168.00,52.00 C166.75,53.30 164.50,53.63 162.00,53.80 C159.50,53.97 156.00,53.47 153.00,53.00 C150.00,52.53 146.42,51.67 144.00,51.00 C141.58,50.33 139.83,49.75 138.50,49.00 C137.17,48.25 135.75,47.75 136.00,46.50Z" stroke="#000" stroke-width="0.9" fill="none"/>
<path d="M138.29,46.41 C138.52,45.27 140.27,43.38 141.94,41.86 C143.60,40.34 146.03,38.60 148.31,37.31 C150.58,36.02 153.31,34.88 155.59,34.12 C157.86,33.37 160.14,32.84 161.96,32.76 C163.78,32.68 165.37,32.84 166.50,33.67 C167.64,34.50 168.40,35.72 168.78,37.77 C169.16,39.81 169.01,43.68 168.78,45.95 C168.55,48.23 168.55,50.23 167.41,51.41 C166.28,52.60 164.23,52.90 161.96,53.05 C159.68,53.20 156.50,52.75 153.76,52.33 C151.03,51.90 147.77,51.11 145.57,50.51 C143.38,49.90 141.78,49.37 140.57,48.69 C139.36,48.00 138.07,47.55 138.29,46.41Z" stroke="#000" stroke-width="0.9" fill="none"/>
<path d="M140.59,46.32 C140.80,45.30 142.37,43.59 143.87,42.22 C145.37,40.85 147.56,39.28 149.61,38.12 C151.66,36.96 154.12,35.93 156.17,35.25 C158.22,34.57 160.27,34.09 161.91,34.02 C163.55,33.95 164.98,34.09 166.01,34.84 C167.03,35.59 167.72,36.69 168.06,38.53 C168.40,40.38 168.26,43.86 168.06,45.91 C167.86,47.96 167.86,49.76 166.83,50.83 C165.81,51.90 163.96,52.17 161.91,52.31 C159.86,52.44 156.99,52.03 154.53,51.65 C152.07,51.27 149.13,50.56 147.15,50.01 C145.17,49.46 143.73,48.98 142.64,48.37 C141.55,47.75 140.38,47.34 140.59,46.32Z" stroke="#000" stroke-width="0.9" fill="none"/>
<path d="M142.88,46.23 C143.07,45.32 144.47,43.80 145.81,42.58 C147.14,41.36 149.09,39.96 150.91,38.93 C152.74,37.90 154.93,36.98 156.75,36.38 C158.58,35.77 160.41,35.34 161.87,35.28 C163.33,35.22 164.60,35.34 165.51,36.01 C166.43,36.68 167.04,37.65 167.34,39.30 C167.64,40.94 167.52,44.04 167.34,45.87 C167.16,47.69 167.16,49.30 166.25,50.24 C165.33,51.19 163.69,51.44 161.87,51.56 C160.04,51.68 157.48,51.32 155.29,50.98 C153.10,50.63 150.49,50.00 148.72,49.52 C146.96,49.03 145.68,48.60 144.71,48.05 C143.74,47.51 142.70,47.14 142.88,46.23Z" stroke="#000" stroke-width="0.9" fill="none"/>
<path d="M145.18,46.14 C145.34,45.34 146.57,44.01 147.74,42.94 C148.91,41.87 150.62,40.65 152.22,39.74 C153.82,38.83 155.74,38.03 157.34,37.50 C158.94,36.97 160.54,36.59 161.82,36.54 C163.10,36.49 164.22,36.59 165.02,37.18 C165.82,37.77 166.35,38.62 166.62,40.06 C166.89,41.50 166.78,44.22 166.62,45.82 C166.46,47.42 166.46,48.83 165.66,49.66 C164.86,50.49 163.42,50.71 161.82,50.81 C160.22,50.92 157.98,50.60 156.06,50.30 C154.14,50.00 151.85,49.45 150.30,49.02 C148.75,48.59 147.63,48.22 146.78,47.74 C145.93,47.26 145.02,46.94 145.18,46.14Z" stroke="#000" stroke-width="0.9" fill="none"/>
<path d="M147.47,46.05 C147.61,45.36 148.67,44.22 149.68,43.30 C150.68,42.38 152.15,41.33 153.53,40.55 C154.90,39.77 156.55,39.08 157.93,38.62 C159.30,38.17 160.68,37.85 161.78,37.80 C162.88,37.75 163.84,37.85 164.53,38.35 C165.21,38.85 165.67,39.59 165.90,40.83 C166.13,42.06 166.04,44.40 165.90,45.77 C165.76,47.15 165.76,48.36 165.07,49.08 C164.39,49.79 163.15,49.97 161.78,50.06 C160.40,50.16 158.47,49.88 156.82,49.62 C155.17,49.37 153.20,48.89 151.88,48.52 C150.55,48.16 149.58,47.84 148.85,47.42 C148.12,47.01 147.34,46.74 147.47,46.05Z" stroke="#000" stroke-width="0.9" fill="none"/>
<path d="M149.77,45.96 C149.89,45.38 150.77,44.43 151.61,43.66 C152.45,42.89 153.68,42.01 154.83,41.36 C155.98,40.71 157.36,40.13 158.51,39.75 C159.66,39.37 160.81,39.10 161.73,39.06 C162.65,39.02 163.45,39.10 164.03,39.52 C164.61,39.94 164.99,40.56 165.18,41.59 C165.37,42.62 165.30,44.58 165.18,45.73 C165.06,46.88 165.06,47.89 164.49,48.49 C163.92,49.09 162.88,49.24 161.73,49.32 C160.58,49.39 158.97,49.16 157.59,48.95 C156.21,48.74 154.56,48.34 153.45,48.03 C152.34,47.72 151.53,47.45 150.92,47.11 C150.31,46.77 149.66,46.54 149.77,45.96Z" stroke="#000" stroke-width="0.9" fill="none"/>
<path d="M151.81,45.88 C151.91,45.41 152.63,44.61 153.33,43.98 C154.03,43.35 155.04,42.62 155.99,42.08 C156.94,41.54 158.08,41.07 159.03,40.75 C159.98,40.43 160.93,40.21 161.69,40.18 C162.45,40.15 163.12,40.21 163.59,40.56 C164.06,40.91 164.38,41.42 164.54,42.27 C164.70,43.12 164.63,44.74 164.54,45.69 C164.44,46.64 164.44,47.48 163.97,47.97 C163.50,48.46 162.64,48.59 161.69,48.65 C160.74,48.72 159.41,48.53 158.27,48.35 C157.13,48.17 155.77,47.84 154.85,47.59 C153.93,47.34 153.27,47.11 152.76,46.83 C152.25,46.55 151.72,46.36 151.81,45.88Z" stroke="#000" stroke-width="0.9" fill="none"/>
<path d="M153.85,45.80 C153.93,45.42 154.50,44.80 155.05,44.30 C155.60,43.80 156.40,43.22 157.15,42.80 C157.90,42.38 158.80,42.00 159.55,41.75 C160.30,41.50 161.05,41.32 161.65,41.30 C162.25,41.27 162.78,41.33 163.15,41.60 C163.53,41.88 163.78,42.28 163.90,42.95 C164.03,43.62 163.98,44.90 163.90,45.65 C163.82,46.40 163.82,47.06 163.45,47.45 C163.07,47.84 162.40,47.94 161.65,47.99 C160.90,48.04 159.85,47.89 158.95,47.75 C158.05,47.61 156.97,47.35 156.25,47.15 C155.53,46.95 155.00,46.77 154.60,46.55 C154.20,46.32 153.77,46.17 153.85,45.80Z" stroke="#000" stroke-width="0.9" fill="none"/>
<path d="M155.89,45.72 C155.94,45.45 156.37,44.99 156.77,44.62 C157.17,44.25 157.76,43.83 158.31,43.52 C158.86,43.21 159.52,42.93 160.07,42.75 C160.62,42.57 161.17,42.44 161.61,42.42 C162.05,42.40 162.44,42.44 162.71,42.64 C162.99,42.84 163.17,43.14 163.26,43.63 C163.35,44.12 163.31,45.06 163.26,45.61 C163.20,46.16 163.21,46.64 162.93,46.93 C162.66,47.22 162.16,47.29 161.61,47.33 C161.06,47.36 160.29,47.25 159.63,47.15 C158.97,47.05 158.18,46.86 157.65,46.71 C157.12,46.56 156.73,46.44 156.44,46.27 C156.15,46.11 155.83,45.99 155.89,45.72Z" stroke="#000" stroke-width="0.9" fill="none"/>
<path d="M157.68,45.65 C157.71,45.46 158.00,45.15 158.28,44.90 C158.55,44.65 158.95,44.36 159.32,44.15 C159.70,43.94 160.15,43.75 160.53,43.62 C160.90,43.50 161.27,43.41 161.57,43.40 C161.88,43.39 162.14,43.41 162.32,43.55 C162.51,43.69 162.64,43.89 162.70,44.23 C162.76,44.56 162.74,45.20 162.70,45.58 C162.66,45.95 162.66,46.28 162.47,46.48 C162.29,46.67 161.95,46.72 161.57,46.74 C161.20,46.77 160.67,46.70 160.22,46.62 C159.78,46.55 159.24,46.43 158.88,46.33 C158.51,46.23 158.25,46.14 158.05,46.02 C157.85,45.91 157.64,45.84 157.68,45.65Z" stroke="#000" stroke-width="0.9" fill="none"/>
<path d="M145.50,33.00 C145.17,31.50 145.83,29.33 146.50,27.00 C147.17,24.67 148.33,21.67 149.50,19.00 C150.67,16.33 152.08,13.08 153.50,11.00 C154.92,8.92 156.42,7.50 158.00,6.50 C159.58,5.50 161.58,4.83 163.00,5.00 C164.42,5.17 166.00,6.00 166.50,7.50 C167.00,9.00 166.58,11.58 166.00,14.00 C165.42,16.42 164.25,19.50 163.00,22.00 C161.75,24.50 160.17,27.00 158.50,29.00 C156.83,31.00 154.67,32.83 153.00,34.00 C151.33,35.17 149.75,36.17 148.50,36.00 C147.25,35.83 145.83,34.50 145.50,33.00Z" stroke="#000" stroke-width="0.9" fill="none"/>
<path d="M146.80,31.30 C146.50,29.95 147.10,28.00 147.70,25.90 C148.30,23.80 149.35,21.10 150.40,18.70 C151.45,16.30 152.72,13.38 154.00,11.50 C155.28,9.62 156.62,8.35 158.05,7.45 C159.48,6.55 161.28,5.95 162.55,6.10 C163.83,6.25 165.25,7.00 165.70,8.35 C166.15,9.70 165.78,12.02 165.25,14.20 C164.72,16.38 163.68,19.15 162.55,21.40 C161.43,23.65 160.00,25.90 158.50,27.70 C157.00,29.50 155.05,31.15 153.55,32.20 C152.05,33.25 150.62,34.15 149.50,34.00 C148.38,33.85 147.10,32.65 146.80,31.30Z" stroke="#000" stroke-width="0.9" fill="none"/>
<path d="M148.10,29.60 C147.83,28.40 148.37,26.67 148.90,24.80 C149.43,22.93 150.37,20.53 151.30,18.40 C152.23,16.27 153.37,13.67 154.50,12.00 C155.63,10.33 156.83,9.20 158.10,8.40 C159.37,7.60 160.97,7.07 162.10,7.20 C163.23,7.33 164.50,8.00 164.90,9.20 C165.30,10.40 164.97,12.47 164.50,14.40 C164.03,16.33 163.10,18.80 162.10,20.80 C161.10,22.80 159.83,24.80 158.50,26.40 C157.17,28.00 155.43,29.47 154.10,30.40 C152.77,31.33 151.50,32.13 150.50,32.00 C149.50,31.87 148.37,30.80 148.10,29.60Z" stroke="#000" stroke-width="0.9" fill="none"/>
<path d="M149.40,27.90 C149.17,26.85 149.63,25.33 150.10,23.70 C150.57,22.07 151.38,19.97 152.20,18.10 C153.02,16.23 154.01,13.96 155.00,12.50 C155.99,11.04 157.04,10.05 158.15,9.35 C159.26,8.65 160.66,8.18 161.65,8.30 C162.64,8.42 163.75,9.00 164.10,10.05 C164.45,11.10 164.16,12.91 163.75,14.60 C163.34,16.29 162.53,18.45 161.65,20.20 C160.78,21.95 159.67,23.70 158.50,25.10 C157.33,26.50 155.82,27.78 154.65,28.60 C153.48,29.42 152.38,30.12 151.50,30.00 C150.62,29.88 149.63,28.95 149.40,27.90Z" stroke="#000" stroke-width="0.9" fill="none"/>
<path d="M150.70,26.20 C150.50,25.30 150.90,24.00 151.30,22.60 C151.70,21.20 152.40,19.40 153.10,17.80 C153.80,16.20 154.65,14.25 155.50,13.00 C156.35,11.75 157.25,10.90 158.20,10.30 C159.15,9.70 160.35,9.30 161.20,9.40 C162.05,9.50 163.00,10.00 163.30,10.90 C163.60,11.80 163.35,13.35 163.00,14.80 C162.65,16.25 161.95,18.10 161.20,19.60 C160.45,21.10 159.50,22.60 158.50,23.80 C157.50,25.00 156.20,26.10 155.20,26.80 C154.20,27.50 153.25,28.10 152.50,28.00 C151.75,27.90 150.90,27.10 150.70,26.20Z" stroke="#000" stroke-width="0.9" fill="none"/>
<path d="M152.00,24.50 C151.83,23.75 152.17,22.67 152.50,21.50 C152.83,20.33 153.42,18.83 154.00,17.50 C154.58,16.17 155.29,14.54 156.00,13.50 C156.71,12.46 157.46,11.75 158.25,11.25 C159.04,10.75 160.04,10.42 160.75,10.50 C161.46,10.58 162.25,11.00 162.50,11.75 C162.75,12.50 162.54,13.79 162.25,15.00 C161.96,16.21 161.38,17.75 160.75,19.00 C160.12,20.25 159.33,21.50 158.50,22.50 C157.67,23.50 156.58,24.42 155.75,25.00 C154.92,25.58 154.12,26.08 153.50,26.00 C152.88,25.92 152.17,25.25 152.00,24.50Z" stroke="#000" stroke-width="0.9" fill="none"/>
<path d="M153.30,22.80 C153.17,22.20 153.43,21.33 153.70,20.40 C153.97,19.47 154.43,18.27 154.90,17.20 C155.37,16.13 155.93,14.83 156.50,14.00 C157.07,13.17 157.67,12.60 158.30,12.20 C158.93,11.80 159.73,11.53 160.30,11.60 C160.87,11.67 161.50,12.00 161.70,12.60 C161.90,13.20 161.73,14.23 161.50,15.20 C161.27,16.17 160.80,17.40 160.30,18.40 C159.80,19.40 159.17,20.40 158.50,21.20 C157.83,22.00 156.97,22.73 156.30,23.20 C155.63,23.67 155.00,24.07 154.50,24.00 C154.00,23.93 153.43,23.40 153.30,22.80Z" stroke="#000" stroke-width="0.9" fill="none"/>
<path d="M154.60,21.10 C154.50,20.65 154.70,20.00 154.90,19.30 C155.10,18.60 155.45,17.70 155.80,16.90 C156.15,16.10 156.57,15.12 157.00,14.50 C157.43,13.88 157.88,13.45 158.35,13.15 C158.82,12.85 159.42,12.65 159.85,12.70 C160.28,12.75 160.75,13.00 160.90,13.45 C161.05,13.90 160.93,14.68 160.75,15.40 C160.57,16.12 160.22,17.05 159.85,17.80 C159.47,18.55 159.00,19.30 158.50,19.90 C158.00,20.50 157.35,21.05 156.85,21.40 C156.35,21.75 155.88,22.05 155.50,22.00 C155.12,21.95 154.70,21.55 154.60,21.10Z" stroke="#000" stroke-width="0.9" fill="none"/>
<path d="M155.90,19.40 C155.83,19.10 155.97,18.67 156.10,18.20 C156.23,17.73 156.47,17.13 156.70,16.60 C156.93,16.07 157.22,15.42 157.50,15.00 C157.78,14.58 158.08,14.30 158.40,14.10 C158.72,13.90 159.12,13.77 159.40,13.80 C159.68,13.83 160.00,14.00 160.10,14.30 C160.20,14.60 160.12,15.12 160.00,15.60 C159.88,16.08 159.65,16.70 159.40,17.20 C159.15,17.70 158.83,18.20 158.50,18.60 C158.17,19.00 157.73,19.37 157.40,19.60 C157.07,19.83 156.75,20.03 156.50,20.00 C156.25,19.97 155.97,19.70 155.90,19.40Z" stroke="#000" stroke-width="0.9" fill="none"/>
<path d="M46.20,50.00 C46.58,50.25 47.73,50.67 48.50,51.50 C49.27,52.33 50.55,53.67 50.80,55.00 C51.05,56.33 50.27,58.25 50.00,59.50 C49.73,60.75 49.12,61.33 49.20,62.50 C49.28,63.67 50.45,65.17 50.50,66.50 C50.55,67.83 50.22,69.58 49.50,70.50 C48.78,71.42 46.75,71.75 46.20,72.00" stroke="#222" stroke-width="0.8" fill="none" stroke-linejoin="round" />
<path d="M46.20,33.50 C46.55,33.62 47.87,33.70 48.30,34.20 C48.73,34.70 49.05,35.78 48.80,36.50 C48.55,37.22 47.13,38.17 46.80,38.50" stroke="#444" stroke-width="1.0" fill="none" stroke-linejoin="round" />
<path d="M139.00,128.00 C139.67,127.53 141.50,125.90 143.00,125.20 C144.50,124.50 146.17,123.90 148.00,123.80 C149.83,123.70 152.00,124.50 154.00,124.60 C156.00,124.70 158.00,124.33 160.00,124.40 C162.00,124.47 164.17,124.93 166.00,125.00 C167.83,125.07 170.17,124.83 171.00,124.80" stroke="#222" stroke-width="0.8" fill="none" stroke-linejoin="round" />
<path d="M146.00,128.00 C146.67,127.77 148.33,126.73 150.00,126.60 C151.67,126.47 154.00,127.22 156.00,127.20 C158.00,127.18 159.50,126.57 162.00,126.50 C164.50,126.43 169.50,126.75 171.00,126.80" stroke="#333" stroke-width="0.7" fill="none" stroke-linejoin="round" />
<path d="M46.00,126.50 C46.42,126.17 47.67,124.58 48.50,124.50 C49.33,124.42 50.42,125.42 51.00,126.00 C51.58,126.58 51.83,127.67 52.00,128.00" stroke="#333" stroke-width="0.7" fill="none" stroke-linejoin="round" />
<rect x="74.2" y="35.0" width="1" height="1" fill="#aaa"/>
<rect x="86.7" y="48.8" width="1" height="1" fill="#aaa"/>
<rect x="85.5" y="48.1" width="1" height="1" fill="#aaa"/>
<rect x="61.1" y="42.1" width="1" height="1" fill="#aaa"/>
<rect x="117.0" y="24.2" width="1" height="1" fill="#aaa"/>
<rect x="149.1" y="44.8" width="1" height="1" fill="#aaa"/>
<rect x="122.6" y="24.7" width="1" height="1" fill="#aaa"/>
<rect x="102.5" y="48.9" width="1" height="1" fill="#aaa"/>
<rect x="108.2" y="54.4" width="1" height="1" fill="#aaa"/>
<rect x="79.4" y="62.6" width="1" height="1" fill="#aaa"/>
<rect x="96.0" y="33.7" width="1" height="1" fill="#aaa"/>
<rect x="104.0" y="39.1" width="1" height="1" fill="#aaa"/>
<rect x="167.5" y="106.0" width="1" height="1" fill="#aaa"/>
<rect x="87.2" y="33.3" width="1" height="1" fill="#aaa"/>
<rect x="132.7" y="63.1" width="1" height="1" fill="#aaa"/>
<rect x="117.0" y="35.4" width="1" height="1" fill="#aaa"/>
<rect x="150.0" y="6.1" width="1" height="1" fill="#aaa"/>
<rect x="123.2" y="39.2" width="1" height="1" fill="#aaa"/>
<rect x="96.9" y="14.7" width="1" height="1" fill="#aaa"/>
<rect x="141.9" y="38.1" width="1" height="1" fill="#aaa"/>
<rect x="87.5" y="90.3" width="1" height="1" fill="#aaa"/>
<rect x="63.9" y="35.3" width="1" height="1" fill="#aaa"/>
<rect x="134.6" y="61.8" width="1" height="1" fill="#aaa"/>
<rect x="91.8" y="42.9" width="1" height="1" fill="#aaa"/>
<rect x="107.0" y="40.5" width="1" height="1" fill="#aaa"/>
<rect x="63.7" y="56.1" width="1" height="1" fill="#aaa"/>
<rect x="102.7" y="97.5" width="1" height="1" fill="#aaa"/>
<rect x="85.9" y="111.3" width="1" height="1" fill="#aaa"/>
<rect x="83.3" y="71.8" width="1" height="1" fill="#aaa"/>
<rect x="61.8" y="123.7" width="1" height="1" fill="#aaa"/>
<rect x="106.6" y="80.9" width="1" height="1" fill="#aaa"/>
<rect x="106.2" y="56.7" width="1" height="1" fill="#aaa"/>
<rect x="97.6" y="43.3" width="1" height="1" fill="#aaa"/>
<rect x="93.9" y="59.9" width="1" height="1" fill="#aaa"/>
<rect x="107.1" y="74.4" width="1" height="1" fill="#aaa"/>
<rect x="71.6" y="24.3" width="1" height="1" fill="#aaa"/>
<rect x="146.5" y="35.7" width="1" height="1" fill="#aaa"/>
<rect x="105.5" y="7.3" width="1" height="1" fill="#aaa"/>
<rect x="139.5" y="38.5" width="1" height="1" fill="#aaa"/>
<rect x="99.7" y="18.4" width="1" height="1" fill="#aaa"/>
<rect x="119.5" y="46.9" width="1" height="1" fill="#aaa"/>
<rect x="80.3" y="104.0" width="1" height="1" fill="#aaa"/>
<rect x="105.3" y="60.8" width="1" height="1" fill="#aaa"/>
<rect x="58.1" y="33.2" width="1" height="1" fill="#aaa"/>
<rect x="121.2" y="30.1" width="1" height="1" fill="#aaa"/>
<rect x="117.4" y="44.0" width="1" height="1" fill="#aaa"/>
<rect x="105.9" y="69.4" width="1" height="1" fill="#aaa"/>
<rect x="114.9" y="65.4" width="1" height="1" fill="#aaa"/>
<rect x="118.3" y="62.6" width="1" height="1" fill="#aaa"/>
<rect x="165.7" y="84.2" width="1" height="1" fill="#aaa"/>
<rect x="119.0" y="22.7" width="1" height="1" fill="#aaa"/>
<rect x="142.9" y="54.4" width="1" height="1" fill="#aaa"/>
<rect x="163.6" y="8.5" width="1" height="1" fill="#aaa"/>
<rect x="106.9" y="92.9" width="1" height="1" fill="#aaa"/>
<rect x="114.3" y="50.0" width="1" height="1" fill="#aaa"/>
<rect x="105.2" y="11.5" width="1" height="1" fill="#aaa"/>
<rect x="133.0" y="100.4" width="1" height="1" fill="#aaa"/>
<rect x="91.5" y="87.5" width="1" height="1" fill="#aaa"/>
<rect x="152.8" y="55.6" width="1" height="1" fill="#aaa"/>
<rect x="151.9" y="74.2" width="1" height="1" fill="#aaa"/>
<rect x="95.1" y="75.3" width="1" height="1" fill="#aaa"/>
<rect x="59.5" y="82.1" width="1" height="1" fill="#aaa"/>
<rect x="153.8" y="92.7" width="1" height="1" fill="#aaa"/>
<rect x="106.0" y="26.4" width="1" height="1" fill="#aaa"/>
<rect x="111.5" y="43.6" width="1" height="1" fill="#aaa"/>
<rect x="53.5" y="77.6" width="1" height="1" fill="#aaa"/>
<rect x="111.1" y="77.7" width="1" height="1" fill="#aaa"/>
<rect x="80.9" y="23.3" width="1" height="1" fill="#aaa"/>
<rect x="121.5" y="51.1" width="1" height="1" fill="#aaa"/>
<rect x="73.9" y="26.2" width="1" height="1" fill="#aaa"/>
<rect x="127.9" y="58.6" width="1" height="1" fill="#aaa"/>
<rect x="88.6" y="85.2" width="1" height="1" fill="#aaa"/>
<rect x="81.7" y="63.7" width="1" height="1" fill="#aaa"/>
<rect x="153.9" y="51.7" width="1" height="1" fill="#aaa"/>
<rect x="104.5" y="58.9" width="1" height="1" fill="#aaa"/>
<rect x="124.2" y="20.1" width="1" height="1" fill="#aaa"/>
<rect x="162.1" y="38.9" width="1" height="1" fill="#aaa"/>
<rect x="95.8" y="54.4" width="1" height="1" fill="#aaa"/>
<rect x="88.8" y="63.0" width="1" height="1" fill="#aaa"/>
<rect x="95.8" y="81.5" width="1" height="1" fill="#aaa"/>
<rect x="103.4" y="14.9" width="1" height="1" fill="#aaa"/>
<rect x="111.2" y="46.2" width="1" height="1" fill="#aaa"/>
<rect x="117.3" y="42.8" width="1" height="1" fill="#aaa"/>
<rect x="52.3" y="22.2" width="1" height="1" fill="#aaa"/>
<rect x="137.7" y="55.2" width="1" height="1" fill="#aaa"/>
<rect x="111.1" y="54.3" width="1" height="1" fill="#aaa"/>
<rect x="102.7" y="81.0" width="1" height="1" fill="#aaa"/>
<rect x="145.3" y="120.1" width="1" height="1" fill="#aaa"/>
<rect x="73.5" y="62.5" width="1" height="1" fill="#aaa"/>
<rect x="126.0" y="51.4" width="1" height="1" fill="#aaa"/>
<line x1="45.80" y1="2.80" x2="172.00" y2="2.80" stroke="#888" stroke-width="1" />
<line x1="172.00" y1="2.80" x2="172.00" y2="128.20" stroke="#888" stroke-width="1" />
<line x1="45.80" y1="2.30" x2="45.80" y2="129.20" stroke="#000" stroke-width="1.5" />
<line x1="44.80" y1="128.20" x2="172.00" y2="128.20" stroke="#000" stroke-width="2" />
<rect x="117.5" y="3.7" width="51.2" height="67.6" fill="none" stroke="#555" stroke-width="2"/>
<text x="122.50" y="14.20" font-size="10.8" text-anchor="start" font-weight="normal" font-style="normal" >90%</text>
<text x="40.20" y="16.90" font-size="6" text-anchor="end" fill="#000">10<tspan font-size="4.20" dy="-2.40">5</tspan></text>
<line x1="42.80" y1="14.70" x2="45.80" y2="14.70" stroke="#000" stroke-width="1" />
<text x="40.20" y="44.20" font-size="6" text-anchor="end" fill="#000">10<tspan font-size="4.20" dy="-2.40">4</tspan></text>
<line x1="42.80" y1="42.00" x2="45.80" y2="42.00" stroke="#000" stroke-width="1" />
<text x="40.20" y="73.70" font-size="6" text-anchor="end" fill="#000">10<tspan font-size="4.20" dy="-2.40">3</tspan></text>
<line x1="42.80" y1="71.50" x2="45.80" y2="71.50" stroke="#000" stroke-width="1" />
<text x="40.20" y="104.00" font-size="6" text-anchor="end" fill="#000">10<tspan font-size="4.20" dy="-2.40">2</tspan></text>
<line x1="42.80" y1="101.80" x2="45.80" y2="101.80" stroke="#000" stroke-width="1" />
<text x="40.20" y="116.80" font-size="6" text-anchor="end" font-weight="normal" font-style="normal" >0</text>
<line x1="42.80" y1="114.60" x2="45.80" y2="114.60" stroke="#000" stroke-width="1" />
<line x1="44.20" y1="92.68" x2="45.80" y2="92.68" stroke="#000" stroke-width="0.8" />
<line x1="44.20" y1="87.34" x2="45.80" y2="87.34" stroke="#000" stroke-width="0.8" />
<line x1="44.20" y1="83.56" x2="45.80" y2="83.56" stroke="#000" stroke-width="0.8" />
<line x1="44.20" y1="80.62" x2="45.80" y2="80.62" stroke="#000" stroke-width="0.8" />
<line x1="44.20" y1="78.22" x2="45.80" y2="78.22" stroke="#000" stroke-width="0.8" />
<line x1="44.20" y1="76.19" x2="45.80" y2="76.19" stroke="#000" stroke-width="0.8" />
<line x1="44.20" y1="74.44" x2="45.80" y2="74.44" stroke="#000" stroke-width="0.8" />
<line x1="44.20" y1="72.89" x2="45.80" y2="72.89" stroke="#000" stroke-width="0.8" />
<line x1="44.20" y1="62.62" x2="45.80" y2="62.62" stroke="#000" stroke-width="0.8" />
<line x1="44.20" y1="57.42" x2="45.80" y2="57.42" stroke="#000" stroke-width="0.8" />
<line x1="44.20" y1="53.74" x2="45.80" y2="53.74" stroke="#000" stroke-width="0.8" />
<line x1="44.20" y1="50.88" x2="45.80" y2="50.88" stroke="#000" stroke-width="0.8" />
<line x1="44.20" y1="48.54" x2="45.80" y2="48.54" stroke="#000" stroke-width="0.8" />
<line x1="44.20" y1="46.57" x2="45.80" y2="46.57" stroke="#000" stroke-width="0.8" />
<line x1="44.20" y1="44.86" x2="45.80" y2="44.86" stroke="#000" stroke-width="0.8" />
<line x1="44.20" y1="43.35" x2="45.80" y2="43.35" stroke="#000" stroke-width="0.8" />
<line x1="44.20" y1="33.78" x2="45.80" y2="33.78" stroke="#000" stroke-width="0.8" />
<line x1="44.20" y1="28.97" x2="45.80" y2="28.97" stroke="#000" stroke-width="0.8" />
<line x1="44.20" y1="25.56" x2="45.80" y2="25.56" stroke="#000" stroke-width="0.8" />
<line x1="44.20" y1="22.92" x2="45.80" y2="22.92" stroke="#000" stroke-width="0.8" />
<line x1="44.20" y1="20.76" x2="45.80" y2="20.76" stroke="#000" stroke-width="0.8" />
<line x1="44.20" y1="18.93" x2="45.80" y2="18.93" stroke="#000" stroke-width="0.8" />
<line x1="44.20" y1="17.35" x2="45.80" y2="17.35" stroke="#000" stroke-width="0.8" />
<line x1="44.20" y1="15.95" x2="45.80" y2="15.95" stroke="#000" stroke-width="0.8" />
<line x1="44.20" y1="107.00" x2="45.80" y2="107.00" stroke="#000" stroke-width="0.8" />
<line x1="44.20" y1="121.00" x2="45.80" y2="121.00" stroke="#000" stroke-width="0.8" />
<line x1="44.20" y1="125.50" x2="45.80" y2="125.50" stroke="#000" stroke-width="0.8" />
<line x1="44.20" y1="6.00" x2="45.80" y2="6.00" stroke="#000" stroke-width="0.8" />
<line x1="44.20" y1="9.50" x2="45.80" y2="9.50" stroke="#000" stroke-width="0.8" />
<text x="72.90" y="140.30" font-size="6" text-anchor="middle" fill="#000">10<tspan font-size="4.20" dy="-2.40">2</tspan></text>
<line x1="72.30" y1="128.20" x2="72.30" y2="130.80" stroke="#000" stroke-width="1" />
<text x="103.10" y="140.30" font-size="6" text-anchor="middle" fill="#000">10<tspan font-size="4.20" dy="-2.40">3</tspan></text>
<line x1="102.50" y1="128.20" x2="102.50" y2="130.80" stroke="#000" stroke-width="1" />
<text x="132.20" y="140.30" font-size="6" text-anchor="middle" fill="#000">10<tspan font-size="4.20" dy="-2.40">4</tspan></text>
<line x1="131.60" y1="128.20" x2="131.60" y2="130.80" stroke="#000" stroke-width="1" />
<text x="160.50" y="140.30" font-size="6" text-anchor="middle" fill="#000">10<tspan font-size="4.20" dy="-2.40">5</tspan></text>
<line x1="159.90" y1="128.20" x2="159.90" y2="130.80" stroke="#000" stroke-width="1" />
<text x="59.80" y="140.30" font-size="6" text-anchor="middle" font-weight="normal" font-style="normal" >0</text>
<line x1="59.10" y1="128.20" x2="59.10" y2="130.80" stroke="#000" stroke-width="1" />
<line x1="81.39" y1="128.20" x2="81.39" y2="130.00" stroke="#000" stroke-width="0.8" />
<line x1="86.71" y1="128.20" x2="86.71" y2="130.00" stroke="#000" stroke-width="0.8" />
<line x1="90.48" y1="128.20" x2="90.48" y2="130.00" stroke="#000" stroke-width="0.8" />
<line x1="93.41" y1="128.20" x2="93.41" y2="130.00" stroke="#000" stroke-width="0.8" />
<line x1="95.80" y1="128.20" x2="95.80" y2="130.00" stroke="#000" stroke-width="0.8" />
<line x1="97.82" y1="128.20" x2="97.82" y2="130.00" stroke="#000" stroke-width="0.8" />
<line x1="99.57" y1="128.20" x2="99.57" y2="130.00" stroke="#000" stroke-width="0.8" />
<line x1="101.12" y1="128.20" x2="101.12" y2="130.00" stroke="#000" stroke-width="0.8" />
<line x1="111.26" y1="128.20" x2="111.26" y2="130.00" stroke="#000" stroke-width="0.8" />
<line x1="116.38" y1="128.20" x2="116.38" y2="130.00" stroke="#000" stroke-width="0.8" />
<line x1="120.02" y1="128.20" x2="120.02" y2="130.00" stroke="#000" stroke-width="0.8" />
<line x1="122.84" y1="128.20" x2="122.84" y2="130.00" stroke="#000" stroke-width="0.8" />
<line x1="125.14" y1="128.20" x2="125.14" y2="130.00" stroke="#000" stroke-width="0.8" />
<line x1="127.09" y1="128.20" x2="127.09" y2="130.00" stroke="#000" stroke-width="0.8" />
<line x1="128.78" y1="128.20" x2="128.78" y2="130.00" stroke="#000" stroke-width="0.8" />
<line x1="130.27" y1="128.20" x2="130.27" y2="130.00" stroke="#000" stroke-width="0.8" />
<line x1="140.12" y1="128.20" x2="140.12" y2="130.00" stroke="#000" stroke-width="0.8" />
<line x1="145.10" y1="128.20" x2="145.10" y2="130.00" stroke="#000" stroke-width="0.8" />
<line x1="148.64" y1="128.20" x2="148.64" y2="130.00" stroke="#000" stroke-width="0.8" />
<line x1="151.38" y1="128.20" x2="151.38" y2="130.00" stroke="#000" stroke-width="0.8" />
<line x1="153.62" y1="128.20" x2="153.62" y2="130.00" stroke="#000" stroke-width="0.8" />
<line x1="155.52" y1="128.20" x2="155.52" y2="130.00" stroke="#000" stroke-width="0.8" />
<line x1="157.16" y1="128.20" x2="157.16" y2="130.00" stroke="#000" stroke-width="0.8" />
<line x1="158.61" y1="128.20" x2="158.61" y2="130.00" stroke="#000" stroke-width="0.8" />
<line x1="168.42" y1="128.20" x2="168.42" y2="130.00" stroke="#000" stroke-width="0.8" />
<line x1="48.00" y1="128.20" x2="48.00" y2="130.00" stroke="#000" stroke-width="0.8" />
<line x1="52.00" y1="128.20" x2="52.00" y2="130.00" stroke="#000" stroke-width="0.8" />
<line x1="55.50" y1="128.20" x2="55.50" y2="130.00" stroke="#000" stroke-width="0.8" />
<line x1="63.00" y1="128.20" x2="63.00" y2="130.00" stroke="#000" stroke-width="0.8" />
<line x1="66.50" y1="128.20" x2="66.50" y2="130.00" stroke="#000" stroke-width="0.8" />
<line x1="219.00" y1="2.60" x2="344.30" y2="2.60" stroke="#666" stroke-width="1" />
<line x1="344.30" y1="2.60" x2="344.30" y2="128.00" stroke="#666" stroke-width="1" />
<path d="M219.80,88.00 L221.00,83.00 L223.40,63.20 L225.10,70.50 L226.50,55.00 L227.80,43.50 L229.10,49.20 L231.00,37.70 L232.30,49.90 L234.90,36.40 L236.20,35.10 L237.80,22.90 L239.10,31.30 L240.60,19.10 L242.20,22.90 L243.60,8.80 L244.90,17.80 L246.40,21.00 L248.10,34.50 L249.60,27.40 L251.50,15.30 L253.20,26.80 L255.80,36.40 L257.80,18.90 L259.90,45.80 L262.40,27.20 L264.60,43.80 L266.50,46.40 L268.20,40.00 L269.40,44.50 L270.60,64.40 L271.30,69.70 L273.10,59.30 L274.40,70.40 L275.10,80.60 L276.40,81.90 L277.30,88.30 L278.60,96.00 L280.00,99.70 L282.00,101.00 L284.70,103.70 L288.70,112.50 L291.40,121.20 L294.80,123.90 L298.80,126.20 L300.90,124.60 L303.60,125.70 L309.60,127.60 L316.30,126.90 L319.00,127.30 L324.40,124.90 L328.50,125.70 L333.80,127.30 L339.20,127.30 L341.90,123.30 L343.50,115.20 L344.00,112.00" stroke="#111" stroke-width="1.1" fill="none" stroke-linejoin="round" />
<line x1="219.00" y1="2.10" x2="219.00" y2="129.00" stroke="#000" stroke-width="2" />
<line x1="218.00" y1="128.00" x2="344.30" y2="128.00" stroke="#000" stroke-width="2" />
<text x="214.00" y="21.80" font-size="6" text-anchor="end" font-weight="normal" font-style="normal" >40</text>
<line x1="215.80" y1="19.60" x2="219.00" y2="19.60" stroke="#000" stroke-width="1" />
<text x="214.00" y="48.80" font-size="6" text-anchor="end" font-weight="normal" font-style="normal" >30</text>
<line x1="215.80" y1="46.60" x2="219.00" y2="46.60" stroke="#000" stroke-width="1" />
<text x="214.00" y="75.90" font-size="6" text-anchor="end" font-weight="normal" font-style="normal" >20</text>
<line x1="215.80" y1="73.70" x2="219.00" y2="73.70" stroke="#000" stroke-width="1" />
<text x="214.00" y="102.90" font-size="6" text-anchor="end" font-weight="normal" font-style="normal" >10</text>
<line x1="215.80" y1="100.70" x2="219.00" y2="100.70" stroke="#000" stroke-width="1" />
<text x="214.00" y="129.90" font-size="6" text-anchor="end" font-weight="normal" font-style="normal" >0</text>
<line x1="215.80" y1="127.70" x2="219.00" y2="127.70" stroke="#000" stroke-width="1" />
<line x1="219.00" y1="86.50" x2="291.60" y2="86.50" stroke="#000" stroke-width="2.4" />
<line x1="220.60" y1="82.80" x2="220.60" y2="90.60" stroke="#000" stroke-width="2.2" />
<line x1="291.60" y1="82.80" x2="291.60" y2="90.80" stroke="#000" stroke-width="2.2" />
<text x="235.30" y="80.20" font-size="10.8" text-anchor="start" font-weight="normal" font-style="normal" >92.8%</text>
<text x="231.60" y="140.20" font-size="5.8" text-anchor="middle" font-weight="normal" font-style="normal" >0</text>
<text x="245.50" y="140.20" font-size="5.8" text-anchor="middle" fill="#000">10<tspan font-size="4.06" dy="-2.32">2</tspan></text>
<line x1="244.90" y1="128.00" x2="244.90" y2="130.60" stroke="#000" stroke-width="1" />
<text x="276.20" y="140.20" font-size="5.8" text-anchor="middle" fill="#000">10<tspan font-size="4.06" dy="-2.32">3</tspan></text>
<line x1="275.60" y1="128.00" x2="275.60" y2="130.60" stroke="#000" stroke-width="1" />
<text x="304.80" y="140.20" font-size="5.8" text-anchor="middle" fill="#000">10<tspan font-size="4.06" dy="-2.32">4</tspan></text>
<line x1="304.20" y1="128.00" x2="304.20" y2="130.60" stroke="#000" stroke-width="1" />
<text x="333.10" y="140.20" font-size="5.8" text-anchor="middle" fill="#000">10<tspan font-size="4.06" dy="-2.32">5</tspan></text>
<line x1="332.50" y1="128.00" x2="332.50" y2="130.60" stroke="#000" stroke-width="1" />
<line x1="231.50" y1="128.00" x2="231.50" y2="130.60" stroke="#000" stroke-width="1" />
<line x1="254.14" y1="128.00" x2="254.14" y2="129.80" stroke="#000" stroke-width="0.8" />
<line x1="259.55" y1="128.00" x2="259.55" y2="129.80" stroke="#000" stroke-width="0.8" />
<line x1="263.38" y1="128.00" x2="263.38" y2="129.80" stroke="#000" stroke-width="0.8" />
<line x1="266.36" y1="128.00" x2="266.36" y2="129.80" stroke="#000" stroke-width="0.8" />
<line x1="268.79" y1="128.00" x2="268.79" y2="129.80" stroke="#000" stroke-width="0.8" />
<line x1="270.84" y1="128.00" x2="270.84" y2="129.80" stroke="#000" stroke-width="0.8" />
<line x1="272.62" y1="128.00" x2="272.62" y2="129.80" stroke="#000" stroke-width="0.8" />
<line x1="274.20" y1="128.00" x2="274.20" y2="129.80" stroke="#000" stroke-width="0.8" />
<line x1="284.21" y1="128.00" x2="284.21" y2="129.80" stroke="#000" stroke-width="0.8" />
<line x1="289.25" y1="128.00" x2="289.25" y2="129.80" stroke="#000" stroke-width="0.8" />
<line x1="292.82" y1="128.00" x2="292.82" y2="129.80" stroke="#000" stroke-width="0.8" />
<line x1="295.59" y1="128.00" x2="295.59" y2="129.80" stroke="#000" stroke-width="0.8" />
<line x1="297.86" y1="128.00" x2="297.86" y2="129.80" stroke="#000" stroke-width="0.8" />
<line x1="299.77" y1="128.00" x2="299.77" y2="129.80" stroke="#000" stroke-width="0.8" />
<line x1="301.43" y1="128.00" x2="301.43" y2="129.80" stroke="#000" stroke-width="0.8" />
<line x1="302.89" y1="128.00" x2="302.89" y2="129.80" stroke="#000" stroke-width="0.8" />
<line x1="312.72" y1="128.00" x2="312.72" y2="129.80" stroke="#000" stroke-width="0.8" />
<line x1="317.70" y1="128.00" x2="317.70" y2="129.80" stroke="#000" stroke-width="0.8" />
<line x1="321.24" y1="128.00" x2="321.24" y2="129.80" stroke="#000" stroke-width="0.8" />
<line x1="323.98" y1="128.00" x2="323.98" y2="129.80" stroke="#000" stroke-width="0.8" />
<line x1="326.22" y1="128.00" x2="326.22" y2="129.80" stroke="#000" stroke-width="0.8" />
<line x1="328.12" y1="128.00" x2="328.12" y2="129.80" stroke="#000" stroke-width="0.8" />
<line x1="329.76" y1="128.00" x2="329.76" y2="129.80" stroke="#000" stroke-width="0.8" />
<line x1="331.21" y1="128.00" x2="331.21" y2="129.80" stroke="#000" stroke-width="0.8" />
<line x1="341.02" y1="128.00" x2="341.02" y2="129.80" stroke="#000" stroke-width="0.8" />
<line x1="221.50" y1="128.00" x2="221.50" y2="129.80" stroke="#000" stroke-width="0.8" />
<line x1="224.50" y1="128.00" x2="224.50" y2="129.80" stroke="#000" stroke-width="0.8" />
<line x1="228.00" y1="128.00" x2="228.00" y2="129.80" stroke="#000" stroke-width="0.8" />
<line x1="235.00" y1="128.00" x2="235.00" y2="129.80" stroke="#000" stroke-width="0.8" />
<line x1="238.50" y1="128.00" x2="238.50" y2="129.80" stroke="#000" stroke-width="0.8" />
<line x1="217.40" y1="122.30" x2="219.00" y2="122.30" stroke="#000" stroke-width="0.7" />
<line x1="217.40" y1="116.90" x2="219.00" y2="116.90" stroke="#000" stroke-width="0.7" />
<line x1="217.40" y1="111.50" x2="219.00" y2="111.50" stroke="#000" stroke-width="0.7" />
<line x1="217.40" y1="106.10" x2="219.00" y2="106.10" stroke="#000" stroke-width="0.7" />
<line x1="217.40" y1="95.30" x2="219.00" y2="95.30" stroke="#000" stroke-width="0.7" />
<line x1="217.40" y1="89.90" x2="219.00" y2="89.90" stroke="#000" stroke-width="0.7" />
<line x1="217.40" y1="84.50" x2="219.00" y2="84.50" stroke="#000" stroke-width="0.7" />
<line x1="217.40" y1="79.10" x2="219.00" y2="79.10" stroke="#000" stroke-width="0.7" />
<line x1="217.40" y1="68.30" x2="219.00" y2="68.30" stroke="#000" stroke-width="0.7" />
<line x1="217.40" y1="62.90" x2="219.00" y2="62.90" stroke="#000" stroke-width="0.7" />
<line x1="217.40" y1="57.50" x2="219.00" y2="57.50" stroke="#000" stroke-width="0.7" />
<line x1="217.40" y1="52.10" x2="219.00" y2="52.10" stroke="#000" stroke-width="0.7" />
<line x1="217.40" y1="41.30" x2="219.00" y2="41.30" stroke="#000" stroke-width="0.7" />
<line x1="217.40" y1="35.90" x2="219.00" y2="35.90" stroke="#000" stroke-width="0.7" />
<line x1="217.40" y1="30.50" x2="219.00" y2="30.50" stroke="#000" stroke-width="0.7" />
<line x1="217.40" y1="25.10" x2="219.00" y2="25.10" stroke="#000" stroke-width="0.7" />
<line x1="217.40" y1="14.30" x2="219.00" y2="14.30" stroke="#000" stroke-width="0.7" />
<line x1="217.40" y1="8.90" x2="219.00" y2="8.90" stroke="#000" stroke-width="0.7" />
<text x="223.00" y="163.80" font-size="10.8" text-anchor="start" font-weight="normal" font-style="normal" >CD19,CD3,CD8,Ter119</text>
<line x1="393.20" y1="2.60" x2="516.80" y2="2.60" stroke="#666" stroke-width="1" />
<line x1="516.80" y1="2.60" x2="516.80" y2="128.00" stroke="#666" stroke-width="1" />
<path d="M393.70,124.00 L394.60,126.00 L398.50,125.20 L403.30,126.40 L406.60,124.50 L410.00,126.00 L413.80,125.80 L418.70,124.50 L421.50,125.20 L425.40,124.00 L429.20,122.10 L431.20,120.70 L433.10,118.30 L435.90,114.70 L438.50,111.50 L440.30,108.20 L441.30,103.80 L442.40,99.50 L444.20,103.80 L445.00,97.30 L446.80,86.40 L449.00,73.30 L451.20,58.10 L453.30,45.00 L454.70,29.50 L455.60,26.30 L456.90,25.60 L458.60,14.70 L460.30,30.80 L462.10,15.40 L463.30,21.20 L464.60,8.30 L465.60,16.00 L466.90,23.10 L468.20,20.50 L469.70,10.90 L471.00,21.20 L471.80,30.80 L472.70,33.30 L474.00,43.60 L475.30,37.80 L476.50,50.00 L478.40,73.30 L481.20,88.60 L483.80,101.70 L486.00,112.60 L488.20,120.20 L491.50,125.60 L494.20,127.50 L497.00,126.60 L500.00,126.60 L503.00,127.50 L510.00,127.20 L516.00,127.40" stroke="#111" stroke-width="1.0" fill="none" stroke-linejoin="round" />
<line x1="393.20" y1="2.10" x2="393.20" y2="129.00" stroke="#000" stroke-width="2" />
<line x1="392.20" y1="128.00" x2="516.80" y2="128.00" stroke="#000" stroke-width="2" />
<text x="387.50" y="11.80" font-size="6" text-anchor="end" font-weight="normal" font-style="normal" >60</text>
<line x1="389.50" y1="9.60" x2="393.20" y2="9.60" stroke="#000" stroke-width="1" />
<text x="387.50" y="51.00" font-size="6" text-anchor="end" font-weight="normal" font-style="normal" >40</text>
<line x1="389.50" y1="48.80" x2="393.20" y2="48.80" stroke="#000" stroke-width="1" />
<text x="387.50" y="90.30" font-size="6" text-anchor="end" font-weight="normal" font-style="normal" >20</text>
<line x1="389.50" y1="88.10" x2="393.20" y2="88.10" stroke="#000" stroke-width="1" />
<text x="387.50" y="129.60" font-size="6" text-anchor="end" font-weight="normal" font-style="normal" >0</text>
<line x1="389.50" y1="127.40" x2="393.20" y2="127.40" stroke="#000" stroke-width="1" />
<line x1="431.00" y1="117.20" x2="487.00" y2="117.20" stroke="#000" stroke-width="2.4" />
<line x1="431.00" y1="113.70" x2="431.00" y2="121.30" stroke="#000" stroke-width="2.2" />
<line x1="487.00" y1="113.70" x2="487.00" y2="121.50" stroke="#000" stroke-width="2.2" />
<text x="455.40" y="106.90" font-size="10.8" text-anchor="start" font-weight="normal" font-style="normal" >93%</text>
<text x="405.80" y="139.70" font-size="5.8" text-anchor="middle" font-weight="normal" font-style="normal" >0</text>
<text x="417.60" y="139.70" font-size="5.8" text-anchor="middle" fill="#000">10<tspan font-size="4.06" dy="-2.32">2</tspan></text>
<line x1="417.00" y1="128.00" x2="417.00" y2="130.60" stroke="#000" stroke-width="1" />
<text x="448.80" y="139.70" font-size="5.8" text-anchor="middle" fill="#000">10<tspan font-size="4.06" dy="-2.32">3</tspan></text>
<line x1="448.20" y1="128.00" x2="448.20" y2="130.60" stroke="#000" stroke-width="1" />
<text x="477.40" y="139.70" font-size="5.8" text-anchor="middle" fill="#000">10<tspan font-size="4.06" dy="-2.32">4</tspan></text>
<line x1="476.80" y1="128.00" x2="476.80" y2="130.60" stroke="#000" stroke-width="1" />
<text x="504.60" y="139.70" font-size="5.8" text-anchor="middle" fill="#000">10<tspan font-size="4.06" dy="-2.32">5</tspan></text>
<line x1="504.00" y1="128.00" x2="504.00" y2="130.60" stroke="#000" stroke-width="1" />
<line x1="405.80" y1="128.00" x2="405.80" y2="130.60" stroke="#000" stroke-width="1" />
<line x1="426.39" y1="128.00" x2="426.39" y2="129.80" stroke="#000" stroke-width="0.8" />
<line x1="431.89" y1="128.00" x2="431.89" y2="129.80" stroke="#000" stroke-width="0.8" />
<line x1="435.78" y1="128.00" x2="435.78" y2="129.80" stroke="#000" stroke-width="0.8" />
<line x1="438.81" y1="128.00" x2="438.81" y2="129.80" stroke="#000" stroke-width="0.8" />
<line x1="441.28" y1="128.00" x2="441.28" y2="129.80" stroke="#000" stroke-width="0.8" />
<line x1="443.37" y1="128.00" x2="443.37" y2="129.80" stroke="#000" stroke-width="0.8" />
<line x1="445.18" y1="128.00" x2="445.18" y2="129.80" stroke="#000" stroke-width="0.8" />
<line x1="446.77" y1="128.00" x2="446.77" y2="129.80" stroke="#000" stroke-width="0.8" />
<line x1="456.81" y1="128.00" x2="456.81" y2="129.80" stroke="#000" stroke-width="0.8" />
<line x1="461.85" y1="128.00" x2="461.85" y2="129.80" stroke="#000" stroke-width="0.8" />
<line x1="465.42" y1="128.00" x2="465.42" y2="129.80" stroke="#000" stroke-width="0.8" />
<line x1="468.19" y1="128.00" x2="468.19" y2="129.80" stroke="#000" stroke-width="0.8" />
<line x1="470.46" y1="128.00" x2="470.46" y2="129.80" stroke="#000" stroke-width="0.8" />
<line x1="472.37" y1="128.00" x2="472.37" y2="129.80" stroke="#000" stroke-width="0.8" />
<line x1="474.03" y1="128.00" x2="474.03" y2="129.80" stroke="#000" stroke-width="0.8" />
<line x1="475.49" y1="128.00" x2="475.49" y2="129.80" stroke="#000" stroke-width="0.8" />
<line x1="484.99" y1="128.00" x2="484.99" y2="129.80" stroke="#000" stroke-width="0.8" />
<line x1="489.78" y1="128.00" x2="489.78" y2="129.80" stroke="#000" stroke-width="0.8" />
<line x1="493.18" y1="128.00" x2="493.18" y2="129.80" stroke="#000" stroke-width="0.8" />
<line x1="495.81" y1="128.00" x2="495.81" y2="129.80" stroke="#000" stroke-width="0.8" />
<line x1="497.97" y1="128.00" x2="497.97" y2="129.80" stroke="#000" stroke-width="0.8" />
<line x1="499.79" y1="128.00" x2="499.79" y2="129.80" stroke="#000" stroke-width="0.8" />
<line x1="501.36" y1="128.00" x2="501.36" y2="129.80" stroke="#000" stroke-width="0.8" />
<line x1="502.76" y1="128.00" x2="502.76" y2="129.80" stroke="#000" stroke-width="0.8" />
<line x1="512.52" y1="128.00" x2="512.52" y2="129.80" stroke="#000" stroke-width="0.8" />
<line x1="395.50" y1="128.00" x2="395.50" y2="129.80" stroke="#000" stroke-width="0.8" />
<line x1="398.50" y1="128.00" x2="398.50" y2="129.80" stroke="#000" stroke-width="0.8" />
<line x1="402.00" y1="128.00" x2="402.00" y2="129.80" stroke="#000" stroke-width="0.8" />
<line x1="409.50" y1="128.00" x2="409.50" y2="129.80" stroke="#000" stroke-width="0.8" />
<line x1="413.00" y1="128.00" x2="413.00" y2="129.80" stroke="#000" stroke-width="0.8" />
<line x1="391.00" y1="117.59" x2="393.20" y2="117.59" stroke="#000" stroke-width="0.8" />
<line x1="391.00" y1="107.77" x2="393.20" y2="107.77" stroke="#000" stroke-width="0.8" />
<line x1="391.00" y1="97.96" x2="393.20" y2="97.96" stroke="#000" stroke-width="0.8" />
<line x1="391.00" y1="78.33" x2="393.20" y2="78.33" stroke="#000" stroke-width="0.8" />
<line x1="391.00" y1="68.51" x2="393.20" y2="68.51" stroke="#000" stroke-width="0.8" />
<line x1="391.00" y1="58.70" x2="393.20" y2="58.70" stroke="#000" stroke-width="0.8" />
<line x1="391.00" y1="39.06" x2="393.20" y2="39.06" stroke="#000" stroke-width="0.8" />
<line x1="391.00" y1="29.25" x2="393.20" y2="29.25" stroke="#000" stroke-width="0.8" />
<line x1="391.00" y1="19.44" x2="393.20" y2="19.44" stroke="#000" stroke-width="0.8" />
<text x="429.70" y="163.80" font-size="10.7" text-anchor="start" font-weight="normal" font-style="normal" >CD11c</text>
<text x="-0.30" y="202.90" font-size="18.8" text-anchor="start" font-weight="bold" font-style="normal" >B</text>
<line x1="52.30" y1="218.50" x2="52.30" y2="343.90" stroke="#000" stroke-width="2" />
<line x1="48.40" y1="218.50" x2="52.30" y2="218.50" stroke="#000" stroke-width="2" />
<text x="40.30" y="222.10" font-size="10" text-anchor="end" font-weight="normal" font-style="normal" >100</text>
<line x1="48.40" y1="249.60" x2="52.30" y2="249.60" stroke="#000" stroke-width="2" />
<text x="40.30" y="253.20" font-size="10" text-anchor="end" font-weight="normal" font-style="normal" >10</text>
<line x1="48.40" y1="280.70" x2="52.30" y2="280.70" stroke="#000" stroke-width="2" />
<text x="40.30" y="284.30" font-size="10" text-anchor="end" font-weight="normal" font-style="normal" >1</text>
<line x1="48.40" y1="311.80" x2="52.30" y2="311.80" stroke="#000" stroke-width="2" />
<text x="40.30" y="315.40" font-size="10" text-anchor="end" font-weight="normal" font-style="normal" >0.1</text>
<line x1="48.40" y1="342.90" x2="52.30" y2="342.90" stroke="#000" stroke-width="2" />
<text x="40.30" y="346.50" font-size="10" text-anchor="end" font-weight="normal" font-style="normal" >0.01</text>
<line x1="48.40" y1="342.90" x2="238.70" y2="342.90" stroke="#000" stroke-width="2" />
<line x1="52.10" y1="342.90" x2="52.10" y2="346.50" stroke="#000" stroke-width="2" />
<line x1="114.30" y1="342.90" x2="114.30" y2="346.50" stroke="#000" stroke-width="2" />
<line x1="176.50" y1="342.90" x2="176.50" y2="346.50" stroke="#000" stroke-width="2" />
<line x1="238.70" y1="342.90" x2="238.70" y2="346.50" stroke="#000" stroke-width="2" />
<text x="53.90" y="363.80" font-size="10" text-anchor="middle" font-weight="normal" font-style="normal" >0</text>
<text x="110.30" y="363.80" font-size="10" text-anchor="middle" font-weight="normal" font-style="normal" >10</text>
<text x="173.20" y="363.80" font-size="10" text-anchor="middle" font-weight="normal" font-style="normal" >20</text>
<text x="235.70" y="363.80" font-size="10" text-anchor="middle" font-weight="normal" font-style="normal" >30</text>
<text x="146.30" y="378.50" font-size="10.8" text-anchor="middle" font-weight="normal" font-style="normal" >days</text>
<text transform="translate(12,290.5) rotate(-90)" font-size="11" text-anchor="middle">% parasitemia (log<tspan font-size="8.6" dy="3.6">10</tspan><tspan dy="-3.6">)</tspan></text>
<line x1="88.70" y1="218.00" x2="88.70" y2="242.00" stroke="#000" stroke-width="1.4" />
<path d="M84.30,237.60 L88.70,248.20 L93.10,237.60 L88.70,240.60" stroke="#000" stroke-width="0.4" fill="#000" stroke-linejoin="round" />
<rect x="131.8" y="241.3" width="35.5" height="89.6" fill="none" stroke="#222" stroke-width="1"/>
<line x1="141.10" y1="248.70" x2="141.10" y2="254.90" stroke="#000" stroke-width="1.4" />
<line x1="143.78" y1="250.25" x2="138.42" y2="253.35" stroke="#000" stroke-width="1.4" />
<line x1="143.78" y1="253.35" x2="138.42" y2="250.25" stroke="#000" stroke-width="1.4" />
<line x1="158.20" y1="258.50" x2="158.20" y2="264.70" stroke="#000" stroke-width="1.4" />
<line x1="160.88" y1="260.05" x2="155.52" y2="263.15" stroke="#000" stroke-width="1.4" />
<line x1="160.88" y1="263.15" x2="155.52" y2="260.05" stroke="#000" stroke-width="1.4" />
<line x1="114.30" y1="254.20" x2="114.30" y2="256.50" stroke="#000" stroke-width="1.7" />
<line x1="110.70" y1="254.20" x2="117.90" y2="254.20" stroke="#000" stroke-width="1.8" />
<line x1="120.52" y1="260.40" x2="120.52" y2="270.10" stroke="#000" stroke-width="1.7" />
<line x1="116.92" y1="260.40" x2="124.12" y2="260.40" stroke="#000" stroke-width="1.8" />
<line x1="126.74" y1="259.30" x2="126.74" y2="274.20" stroke="#000" stroke-width="1.7" />
<line x1="123.14" y1="259.30" x2="130.34" y2="259.30" stroke="#000" stroke-width="1.8" />
<line x1="139.18" y1="263.10" x2="139.18" y2="274.60" stroke="#000" stroke-width="1.7" />
<line x1="135.58" y1="263.10" x2="142.78" y2="263.10" stroke="#000" stroke-width="1.8" />
<line x1="145.40" y1="275.40" x2="145.40" y2="282.30" stroke="#000" stroke-width="1.7" />
<line x1="141.80" y1="275.40" x2="149.00" y2="275.40" stroke="#000" stroke-width="1.8" />
<line x1="157.84" y1="275.40" x2="157.84" y2="283.80" stroke="#000" stroke-width="1.7" />
<line x1="154.24" y1="275.40" x2="161.44" y2="275.40" stroke="#000" stroke-width="1.8" />
<line x1="226.26" y1="283.00" x2="226.26" y2="297.30" stroke="#000" stroke-width="1.7" />
<line x1="222.66" y1="283.00" x2="229.86" y2="283.00" stroke="#000" stroke-width="1.8" />
<line x1="226.26" y1="290.40" x2="226.26" y2="297.30" stroke="#000" stroke-width="1.7" />
<line x1="222.66" y1="290.40" x2="229.86" y2="290.40" stroke="#000" stroke-width="1.8" />
<line x1="145.40" y1="288.50" x2="145.40" y2="294.60" stroke="#000" stroke-width="1.7" />
<line x1="141.80" y1="288.50" x2="149.00" y2="288.50" stroke="#000" stroke-width="1.8" />
<line x1="139.18" y1="279.20" x2="139.18" y2="286.30" stroke="#000" stroke-width="1.7" />
<line x1="135.58" y1="279.20" x2="142.78" y2="279.20" stroke="#000" stroke-width="1.8" />
<line x1="83.20" y1="284.60" x2="83.20" y2="291.00" stroke="#000" stroke-width="1.7" />
<line x1="79.60" y1="284.60" x2="86.80" y2="284.60" stroke="#000" stroke-width="1.8" />
<line x1="188.94" y1="300.50" x2="188.94" y2="304.00" stroke="#000" stroke-width="1.7" />
<line x1="185.34" y1="300.50" x2="192.54" y2="300.50" stroke="#000" stroke-width="1.8" />
<path d="M76.98,303.00 L83.20,291.00 L89.42,263.00 L101.86,254.80 L114.30,256.50 L120.52,270.10 L126.74,274.20 L139.18,274.60 L145.40,282.30 L157.84,283.80 L188.94,304.50 L226.26,306.30" stroke="#000" stroke-width="1.8" fill="none" stroke-linejoin="round" />
<path d="M76.98,301.00 L83.20,271.00 L89.42,256.50 L101.86,245.00 L114.30,266.00 L120.52,287.80 L126.74,299.60 L139.18,296.30 L145.40,310.10 L157.84,310.90 L188.94,303.70 L226.26,304.00" stroke="#000" stroke-width="1.8" fill="none" stroke-linejoin="round" />
<path d="M76.98,304.50 L83.20,278.00 L89.42,258.50 L101.86,244.10 L114.30,260.20 L120.52,284.00 L126.74,281.60 L139.18,286.30 L145.40,294.60 L157.84,306.60 L188.94,316.40 L226.26,297.30" stroke="#000" stroke-width="1.8" fill="none" stroke-linejoin="round" />
<rect x="74.13" y="300.15" width="5.7" height="5.7" fill="#fff" stroke="#000" stroke-width="1.7"/>
<rect x="80.35" y="288.15" width="5.7" height="5.7" fill="#fff" stroke="#000" stroke-width="1.7"/>
<rect x="86.57" y="260.15" width="5.7" height="5.7" fill="#fff" stroke="#000" stroke-width="1.7"/>
<rect x="99.01" y="251.95" width="5.7" height="5.7" fill="#fff" stroke="#000" stroke-width="1.7"/>
<rect x="111.45" y="253.65" width="5.7" height="5.7" fill="#fff" stroke="#000" stroke-width="1.7"/>
<rect x="117.67" y="267.25" width="5.7" height="5.7" fill="#fff" stroke="#000" stroke-width="1.7"/>
<rect x="123.89" y="271.35" width="5.7" height="5.7" fill="#fff" stroke="#000" stroke-width="1.7"/>
<rect x="136.33" y="271.75" width="5.7" height="5.7" fill="#fff" stroke="#000" stroke-width="1.7"/>
<rect x="142.55" y="279.45" width="5.7" height="5.7" fill="#fff" stroke="#000" stroke-width="1.7"/>
<rect x="154.99" y="280.95" width="5.7" height="5.7" fill="#fff" stroke="#000" stroke-width="1.7"/>
<rect x="186.09" y="301.65" width="5.7" height="5.7" fill="#fff" stroke="#000" stroke-width="1.7"/>
<rect x="223.41" y="303.45" width="5.7" height="5.7" fill="#fff" stroke="#000" stroke-width="1.7"/>
<rect x="73.58" y="297.60" width="6.8" height="6.8" fill="#000"/>
<rect x="79.80" y="267.60" width="6.8" height="6.8" fill="#000"/>
<rect x="86.02" y="253.10" width="6.8" height="6.8" fill="#000"/>
<rect x="98.46" y="241.60" width="6.8" height="6.8" fill="#000"/>
<rect x="110.90" y="262.60" width="6.8" height="6.8" fill="#000"/>
<rect x="117.12" y="284.40" width="6.8" height="6.8" fill="#000"/>
<rect x="123.34" y="296.20" width="6.8" height="6.8" fill="#000"/>
<rect x="135.78" y="292.90" width="6.8" height="6.8" fill="#000"/>
<rect x="142.00" y="306.70" width="6.8" height="6.8" fill="#000"/>
<rect x="154.44" y="307.50" width="6.8" height="6.8" fill="#000"/>
<rect x="185.54" y="300.30" width="6.8" height="6.8" fill="#000"/>
<rect x="222.86" y="300.60" width="6.8" height="6.8" fill="#000"/>
<circle cx="76.98" cy="304.50" r="2.85" fill="#fff" stroke="#000" stroke-width="1.7"/>
<circle cx="83.20" cy="278.00" r="2.85" fill="#fff" stroke="#000" stroke-width="1.7"/>
<circle cx="89.42" cy="258.50" r="2.85" fill="#fff" stroke="#000" stroke-width="1.7"/>
<circle cx="101.86" cy="244.10" r="2.85" fill="#fff" stroke="#000" stroke-width="1.7"/>
<circle cx="114.30" cy="260.20" r="2.85" fill="#fff" stroke="#000" stroke-width="1.7"/>
<circle cx="120.52" cy="284.00" r="2.85" fill="#fff" stroke="#000" stroke-width="1.7"/>
<circle cx="126.74" cy="281.60" r="2.85" fill="#fff" stroke="#000" stroke-width="1.7"/>
<circle cx="139.18" cy="286.30" r="2.85" fill="#fff" stroke="#000" stroke-width="1.7"/>
<circle cx="145.40" cy="294.60" r="2.85" fill="#fff" stroke="#000" stroke-width="1.7"/>
<circle cx="157.84" cy="306.60" r="2.85" fill="#fff" stroke="#000" stroke-width="1.7"/>
<circle cx="188.94" cy="316.40" r="2.85" fill="#fff" stroke="#000" stroke-width="1.7"/>
<circle cx="226.26" cy="297.30" r="2.85" fill="#fff" stroke="#000" stroke-width="1.7"/>
<circle cx="176.5" cy="207" r="4.4" fill="#fff" stroke="#000" stroke-width="1.5"/>
<rect x="172.8" y="219.9" width="8.8" height="8.3" fill="#fff" stroke="#000" stroke-width="1.5"/>
<rect x="172.1" y="234" width="10.2" height="10.2" fill="#000"/>
<text x="190.40" y="211.90" font-size="8.3" text-anchor="start" font-weight="normal" font-style="normal" >WT</text>
<text x="190.40" y="226.60" font-size="8.3" text-anchor="start" font-weight="normal" font-style="normal" >CCR2-/-</text>
<text x="190.40" y="239.80" font-size="8.3" text-anchor="start" font-weight="normal" font-style="normal" >WT</text>
<line x1="207.40" y1="237.30" x2="216.00" y2="237.30" stroke="#000" stroke-width="1.1" />
<path d="M215.00,235.20 L220.30,237.30 L215.00,239.40" stroke="#000" stroke-width="0.3" fill="#000" stroke-linejoin="round" />
<text x="223.20" y="239.80" font-size="8.3" text-anchor="start" font-weight="normal" font-style="normal" >CCR2-/-</text>
<line x1="297.70" y1="218.60" x2="297.70" y2="343.60" stroke="#000" stroke-width="2" />
<line x1="294.00" y1="218.60" x2="297.70" y2="218.60" stroke="#000" stroke-width="2" />
<text x="286.40" y="222.20" font-size="10" text-anchor="end" font-weight="normal" font-style="normal" >10</text>
<line x1="294.00" y1="259.90" x2="297.70" y2="259.90" stroke="#000" stroke-width="2" />
<text x="286.40" y="263.50" font-size="10" text-anchor="end" font-weight="normal" font-style="normal" >1</text>
<line x1="294.00" y1="301.30" x2="297.70" y2="301.30" stroke="#000" stroke-width="2" />
<text x="286.40" y="304.90" font-size="10" text-anchor="end" font-weight="normal" font-style="normal" >0.1</text>
<line x1="294.00" y1="342.60" x2="297.70" y2="342.60" stroke="#000" stroke-width="2" />
<text x="286.40" y="346.20" font-size="10" text-anchor="end" font-weight="normal" font-style="normal" >0.01</text>
<line x1="293.80" y1="342.60" x2="483.70" y2="342.60" stroke="#000" stroke-width="2" />
<line x1="321.20" y1="342.60" x2="321.20" y2="346.50" stroke="#000" stroke-width="2" />
<line x1="367.90" y1="342.60" x2="367.90" y2="346.50" stroke="#000" stroke-width="2" />
<line x1="414.50" y1="342.60" x2="414.50" y2="346.50" stroke="#000" stroke-width="2" />
<line x1="461.30" y1="342.60" x2="461.30" y2="346.50" stroke="#000" stroke-width="2" />
<text x="334.20" y="198.50" font-size="10.4" text-anchor="middle" font-weight="normal" font-style="normal" >DAY15</text>
<text x="433.20" y="198.50" font-size="10.4" text-anchor="middle" font-weight="normal" font-style="normal" >DAY17</text>
<path d="M310.70,224.10 L310.70,211.20 L371.40,211.20 L371.40,270.40" stroke="#000" stroke-width="1.3" fill="none" stroke-linejoin="round" />
<path d="M405.70,224.10 L405.70,211.20 L466.30,211.20 L466.30,269.70" stroke="#000" stroke-width="1.3" fill="none" stroke-linejoin="round" />
<text x="325.6" y="222.5" font-size="8.5"><tspan font-style="italic">P</tspan> = .0286</text>
<text x="420.1" y="222.5" font-size="8.5"><tspan font-style="italic">P</tspan> = .0265</text>
<line x1="306.10" y1="262.60" x2="336.70" y2="262.60" stroke="#000" stroke-width="1.8" />
<line x1="321.40" y1="253.30" x2="321.40" y2="262.60" stroke="#000" stroke-width="1.8" />
<line x1="313.20" y1="253.30" x2="329.60" y2="253.30" stroke="#000" stroke-width="1.8" />
<rect x="318.60" y="233.60" width="5.6" height="5.6" fill="#fff" stroke="#000" stroke-width="1.7"/>
<rect x="308.90" y="262.20" width="5.6" height="5.6" fill="#fff" stroke="#000" stroke-width="1.7"/>
<rect x="318.70" y="262.20" width="5.6" height="5.6" fill="#fff" stroke="#000" stroke-width="1.7"/>
<rect x="318.70" y="281.30" width="5.6" height="5.6" fill="#fff" stroke="#000" stroke-width="1.7"/>
<line x1="352.40" y1="300.50" x2="383.60" y2="300.50" stroke="#000" stroke-width="1.8" />
<line x1="368.00" y1="295.40" x2="368.00" y2="300.50" stroke="#000" stroke-width="1.8" />
<line x1="359.80" y1="295.40" x2="376.20" y2="295.40" stroke="#000" stroke-width="1.8" />
<rect x="364.90" y="283.50" width="6.2" height="6.2" fill="#000"/>
<rect x="355.40" y="298.90" width="6.2" height="6.2" fill="#000"/>
<rect x="364.90" y="304.60" width="6.2" height="6.2" fill="#000"/>
<rect x="374.60" y="303.10" width="6.2" height="6.2" fill="#000"/>
<line x1="399.20" y1="265.00" x2="430.40" y2="265.00" stroke="#000" stroke-width="1.8" />
<line x1="414.80" y1="251.90" x2="414.80" y2="265.00" stroke="#000" stroke-width="1.8" />
<line x1="406.60" y1="251.90" x2="423.00" y2="251.90" stroke="#000" stroke-width="1.8" />
<rect x="411.60" y="224.80" width="5.6" height="5.6" fill="#fff" stroke="#000" stroke-width="1.7"/>
<rect x="402.00" y="270.00" width="5.6" height="5.6" fill="#fff" stroke="#000" stroke-width="1.7"/>
<rect x="411.70" y="277.80" width="5.6" height="5.6" fill="#fff" stroke="#000" stroke-width="1.7"/>
<rect x="420.90" y="275.80" width="5.6" height="5.6" fill="#fff" stroke="#000" stroke-width="1.7"/>
<line x1="446.00" y1="299.70" x2="476.20" y2="299.70" stroke="#000" stroke-width="1.8" />
<line x1="461.10" y1="294.50" x2="461.10" y2="299.70" stroke="#000" stroke-width="1.8" />
<line x1="452.90" y1="294.50" x2="469.30" y2="294.50" stroke="#000" stroke-width="1.8" />
<rect x="457.80" y="280.00" width="6.2" height="6.2" fill="#000"/>
<rect x="448.70" y="300.40" width="6.2" height="6.2" fill="#000"/>
<rect x="458.00" y="304.60" width="6.2" height="6.2" fill="#000"/>
<rect x="467.70" y="302.60" width="6.2" height="6.2" fill="#000"/>
<text transform="translate(325.40,355.80) rotate(-56)" font-size="11.2" text-anchor="end">CCR2-/-</text>
<text transform="translate(370.20,356.50) rotate(-56)" font-size="11.2" text-anchor="end">CCR2-/-</text>
<g transform="translate(361.40,353.50) rotate(-56)"><text x="-21" y="0" font-size="11.2" text-anchor="end">WT</text><line x1="-19" y1="-3.4" x2="-5" y2="-3.4" stroke="#000" stroke-width="1.3"/><path d="M-6.5,-6.3 L0,-3.4 L-6.5,-0.5 Z" fill="#000"/></g>
<text transform="translate(418.70,355.80) rotate(-56)" font-size="11.2" text-anchor="end">CCR2-/-</text>
<text transform="translate(463.60,356.50) rotate(-56)" font-size="11.2" text-anchor="end">CCR2-/-</text>
<g transform="translate(454.80,353.50) rotate(-56)"><text x="-21" y="0" font-size="11.2" text-anchor="end">WT</text><line x1="-19" y1="-3.4" x2="-5" y2="-3.4" stroke="#000" stroke-width="1.3"/><path d="M-6.5,-6.3 L0,-3.4 L-6.5,-0.5 Z" fill="#000"/></g>
</svg></body></html>
